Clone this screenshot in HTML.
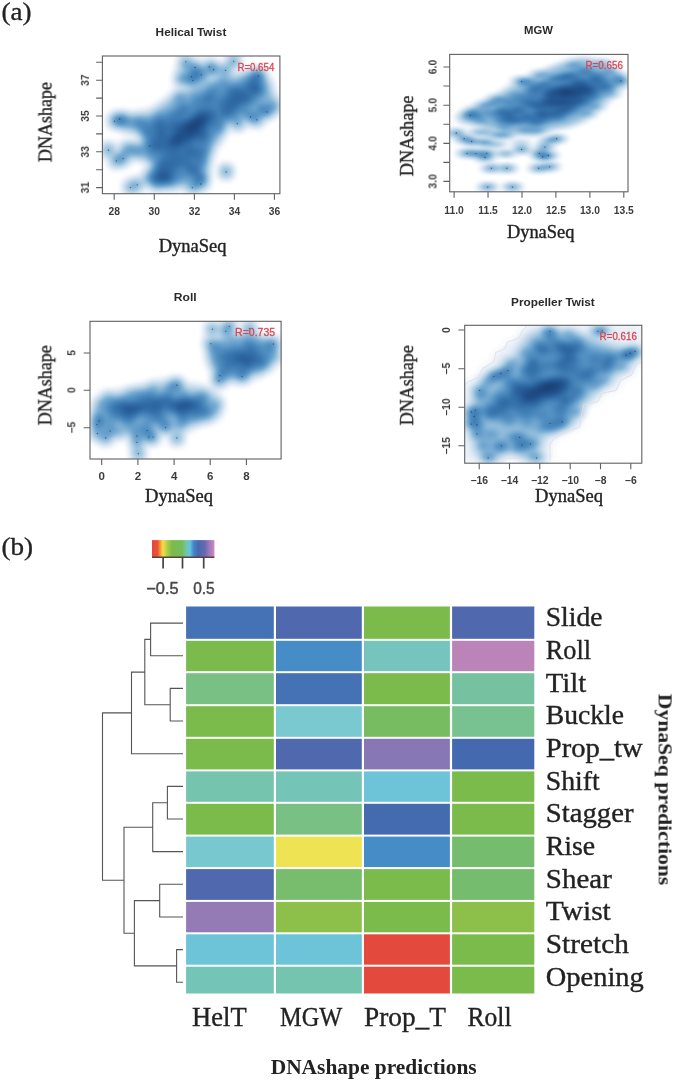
<!DOCTYPE html>
<html><head><meta charset="utf-8"><title>figure</title><style>html,body{margin:0;padding:0;background:#fff}svg{display:block}</style></head><body>
<svg width="675" height="1080" viewBox="0 0 675 1080">
<defs>
<filter id="soft" x="-5%" y="-20%" width="110%" height="140%"><feGaussianBlur stdDeviation="0.35"/></filter>
<filter id="soft2" x="-5%" y="-20%" width="110%" height="140%"><feGaussianBlur stdDeviation="0.5"/></filter>
<filter id="dens1" filterUnits="userSpaceOnUse" x="102.4" y="56.0" width="177.5" height="137.7" color-interpolation-filters="sRGB"><feGaussianBlur stdDeviation="4.5 4.5"/><feColorMatrix type="matrix" values="0 0 0 1 0  0 0 0 1 0  0 0 0 1 0  0 0 0 0 1"/><feComponentTransfer><feFuncR type="table" tableValues="1.000 0.920 0.869 0.825 0.788 0.748 0.708 0.671 0.635 0.594 0.555 0.518 0.482 0.451 0.422 0.394 0.367 0.341 0.317 0.299 0.282 0.264 0.247 0.231 0.215 0.203 0.192 0.181 0.170 0.160 0.149 0.139 0.131 0.126 0.122 0.117 0.112 0.108 0.103 0.099 0.094"/><feFuncG type="table" tableValues="1.000 0.949 0.917 0.888 0.865 0.842 0.821 0.801 0.782 0.755 0.729 0.705 0.682 0.660 0.639 0.618 0.599 0.579 0.560 0.542 0.523 0.505 0.488 0.471 0.454 0.437 0.420 0.403 0.387 0.370 0.354 0.339 0.323 0.308 0.293 0.279 0.264 0.250 0.236 0.222 0.208"/><feFuncB type="table" tableValues="1.000 0.977 0.960 0.944 0.931 0.918 0.905 0.892 0.881 0.868 0.855 0.843 0.831 0.819 0.806 0.793 0.781 0.770 0.758 0.744 0.731 0.718 0.705 0.693 0.681 0.665 0.648 0.632 0.616 0.600 0.585 0.570 0.553 0.533 0.513 0.493 0.474 0.455 0.437 0.418 0.400"/></feComponentTransfer><feGaussianBlur stdDeviation="0.6"/></filter>
<filter id="dens2" filterUnits="userSpaceOnUse" x="449.7" y="54.4" width="178.3" height="137.4" color-interpolation-filters="sRGB"><feGaussianBlur stdDeviation="5 2.8"/><feColorMatrix type="matrix" values="0 0 0 1 0  0 0 0 1 0  0 0 0 1 0  0 0 0 0 1"/><feComponentTransfer><feFuncR type="table" tableValues="1.000 0.920 0.869 0.825 0.788 0.748 0.708 0.671 0.635 0.594 0.555 0.518 0.482 0.451 0.422 0.394 0.367 0.341 0.317 0.299 0.282 0.264 0.247 0.231 0.215 0.203 0.192 0.181 0.170 0.160 0.149 0.139 0.131 0.126 0.122 0.117 0.112 0.108 0.103 0.099 0.094"/><feFuncG type="table" tableValues="1.000 0.949 0.917 0.888 0.865 0.842 0.821 0.801 0.782 0.755 0.729 0.705 0.682 0.660 0.639 0.618 0.599 0.579 0.560 0.542 0.523 0.505 0.488 0.471 0.454 0.437 0.420 0.403 0.387 0.370 0.354 0.339 0.323 0.308 0.293 0.279 0.264 0.250 0.236 0.222 0.208"/><feFuncB type="table" tableValues="1.000 0.977 0.960 0.944 0.931 0.918 0.905 0.892 0.881 0.868 0.855 0.843 0.831 0.819 0.806 0.793 0.781 0.770 0.758 0.744 0.731 0.718 0.705 0.693 0.681 0.665 0.648 0.632 0.616 0.600 0.585 0.570 0.553 0.533 0.513 0.493 0.474 0.455 0.437 0.418 0.400"/></feComponentTransfer><feGaussianBlur stdDeviation="0.6"/></filter>
<filter id="dens3" filterUnits="userSpaceOnUse" x="90.0" y="321.3" width="191.1" height="137.7" color-interpolation-filters="sRGB"><feGaussianBlur stdDeviation="4.5 4.5"/><feColorMatrix type="matrix" values="0 0 0 1 0  0 0 0 1 0  0 0 0 1 0  0 0 0 0 1"/><feComponentTransfer><feFuncR type="table" tableValues="1.000 0.920 0.869 0.825 0.788 0.748 0.708 0.671 0.635 0.594 0.555 0.518 0.482 0.451 0.422 0.394 0.367 0.341 0.317 0.299 0.282 0.264 0.247 0.231 0.215 0.203 0.192 0.181 0.170 0.160 0.149 0.139 0.131 0.126 0.122 0.117 0.112 0.108 0.103 0.099 0.094"/><feFuncG type="table" tableValues="1.000 0.949 0.917 0.888 0.865 0.842 0.821 0.801 0.782 0.755 0.729 0.705 0.682 0.660 0.639 0.618 0.599 0.579 0.560 0.542 0.523 0.505 0.488 0.471 0.454 0.437 0.420 0.403 0.387 0.370 0.354 0.339 0.323 0.308 0.293 0.279 0.264 0.250 0.236 0.222 0.208"/><feFuncB type="table" tableValues="1.000 0.977 0.960 0.944 0.931 0.918 0.905 0.892 0.881 0.868 0.855 0.843 0.831 0.819 0.806 0.793 0.781 0.770 0.758 0.744 0.731 0.718 0.705 0.693 0.681 0.665 0.648 0.632 0.616 0.600 0.585 0.570 0.553 0.533 0.513 0.493 0.474 0.455 0.437 0.418 0.400"/></feComponentTransfer><feGaussianBlur stdDeviation="0.6"/></filter>
<filter id="dens4" filterUnits="userSpaceOnUse" x="464.7" y="325.3" width="177.1" height="137.9" color-interpolation-filters="sRGB"><feGaussianBlur stdDeviation="5 3.6"/><feColorMatrix type="matrix" values="0 0 0 1 0  0 0 0 1 0  0 0 0 1 0  0 0 0 0 1"/><feComponentTransfer><feFuncR type="table" tableValues="1.000 0.920 0.869 0.825 0.788 0.748 0.708 0.671 0.635 0.594 0.555 0.518 0.482 0.451 0.422 0.394 0.367 0.341 0.317 0.299 0.282 0.264 0.247 0.231 0.215 0.203 0.192 0.181 0.170 0.160 0.149 0.139 0.131 0.126 0.122 0.117 0.112 0.108 0.103 0.099 0.094"/><feFuncG type="table" tableValues="1.000 0.949 0.917 0.888 0.865 0.842 0.821 0.801 0.782 0.755 0.729 0.705 0.682 0.660 0.639 0.618 0.599 0.579 0.560 0.542 0.523 0.505 0.488 0.471 0.454 0.437 0.420 0.403 0.387 0.370 0.354 0.339 0.323 0.308 0.293 0.279 0.264 0.250 0.236 0.222 0.208"/><feFuncB type="table" tableValues="1.000 0.977 0.960 0.944 0.931 0.918 0.905 0.892 0.881 0.868 0.855 0.843 0.831 0.819 0.806 0.793 0.781 0.770 0.758 0.744 0.731 0.718 0.705 0.693 0.681 0.665 0.648 0.632 0.616 0.600 0.585 0.570 0.553 0.533 0.513 0.493 0.474 0.455 0.437 0.418 0.400"/></feComponentTransfer><feGaussianBlur stdDeviation="0.6"/></filter>
<linearGradient id="lg" x1="0" x2="1" y1="0" y2="0"><stop offset="0%" stop-color="#E5453A"/><stop offset="9%" stop-color="#EA5238"/><stop offset="13%" stop-color="#F3953B"/><stop offset="17.5%" stop-color="#F2E046"/><stop offset="25%" stop-color="#A9CD48"/><stop offset="32%" stop-color="#7CBB4C"/><stop offset="48%" stop-color="#72BC5A"/><stop offset="55%" stop-color="#74C5A8"/><stop offset="61%" stop-color="#60C4E4"/><stop offset="66.5%" stop-color="#4A86C8"/><stop offset="74%" stop-color="#4668B0"/><stop offset="85%" stop-color="#6A69B2"/><stop offset="91%" stop-color="#9878B8"/><stop offset="100%" stop-color="#CB8AC2"/></linearGradient>
</defs>
<text x="1.5" y="20.2" font-family="Liberation Serif" font-size="25.8" font-weight="normal" fill="#222" text-anchor="start" textLength="30" lengthAdjust="spacingAndGlyphs"  stroke="#222" stroke-width="0.35" filter="url(#soft)">(a)</text>
<text x="1.5" y="554.6" font-family="Liberation Serif" font-size="25.8" font-weight="normal" fill="#222" text-anchor="start" textLength="31.6" lengthAdjust="spacingAndGlyphs"  stroke="#222" stroke-width="0.35" filter="url(#soft)">(b)</text>
<g filter="url(#dens1)">
<polygon points="195.7,100.7 218.2,92.2 240.7,86.6 257.6,83.8 263.2,92.2 257.6,100.7 240.7,106.3 226.7,114.7 218.2,128.8 209.8,145.7 204.1,162.6 195.7,173.8 178.8,182.3 156.3,182.3 150.7,176.7 159.1,165.4 164.7,154.1 156.3,145.7 147.8,137.3 142.2,126.0 156.3,120.4 173.2,114.7 184.4,106.3" fill="#000" fill-opacity="0.25"/>
<polygon points="257.6,72.5 268.9,81.0 271.7,92.2 277.3,103.5 275.9,110.5 266.1,116.1 252.0,113.3 240.7,117.5 232.3,120.4 226.7,126.0 221.0,137.3 212.6,148.5 208.4,162.6 207.0,173.8 204.1,182.3 195.7,187.9 184.4,185.1 170.4,187.9 150.7,185.1 142.2,180.9 147.8,171.0 153.5,162.6 145.0,158.4 128.1,155.5 119.7,152.7 121.1,145.7 136.6,144.3 147.8,140.1 142.2,133.0 128.1,130.2 116.9,126.0 112.7,120.4 116.9,114.7 131.0,116.1 150.7,113.3 164.7,103.5 176.0,95.0 190.1,89.4 201.3,83.8 218.2,78.1 232.3,76.7 246.4,75.3" fill="#000" fill-opacity="0.28"/>
<ellipse cx="195.7" cy="124.6" rx="12.7" ry="5.1" fill="#000" fill-opacity="0.8" transform="rotate(-40 195.7 124.6)"/>
<ellipse cx="192.9" cy="73.9" rx="15.5" ry="8.4" fill="#000" fill-opacity="0.18" transform="rotate(10 192.9 73.9)"/>
<ellipse cx="131.0" cy="121.8" rx="19.7" ry="3.9" fill="#000" fill-opacity="0.2" transform="rotate(3 131.0 121.8)"/>
<ellipse cx="252.0" cy="81.0" rx="12.7" ry="9.9" fill="#000" fill-opacity="0.15" transform="rotate(-20 252.0 81.0)"/>
<ellipse cx="192.9" cy="128.8" rx="22.5" ry="9.9" fill="#000" fill-opacity="0.4" transform="rotate(-38 192.9 128.8)"/>
<ellipse cx="174.6" cy="140.6" rx="9.0" ry="4.5" fill="#000" fill-opacity="0.6" transform="rotate(-10 174.6 140.6)"/>
<ellipse cx="160.5" cy="178.1" rx="14.1" ry="5.6" fill="#000" fill-opacity="0.4"/>
<ellipse cx="170.4" cy="161.2" rx="9.9" ry="8.4" fill="#000" fill-opacity="0.3"/>
<ellipse cx="185.8" cy="62.7" rx="4.5" ry="4.5" fill="#000" fill-opacity="0.55"/>
<ellipse cx="195.7" cy="67.5" rx="4.5" ry="4.5" fill="#000" fill-opacity="0.55"/>
<ellipse cx="209.8" cy="66.9" rx="4.5" ry="4.5" fill="#000" fill-opacity="0.55"/>
<ellipse cx="214.0" cy="69.7" rx="4.5" ry="4.5" fill="#000" fill-opacity="0.55"/>
<ellipse cx="192.9" cy="76.7" rx="4.5" ry="4.5" fill="#000" fill-opacity="0.55"/>
<ellipse cx="191.5" cy="80.4" rx="4.5" ry="4.5" fill="#000" fill-opacity="0.55"/>
<ellipse cx="201.3" cy="74.8" rx="4.5" ry="4.5" fill="#000" fill-opacity="0.55"/>
<ellipse cx="181.6" cy="79.6" rx="4.5" ry="4.5" fill="#000" fill-opacity="0.55"/>
<ellipse cx="233.7" cy="61.3" rx="4.5" ry="4.5" fill="#000" fill-opacity="0.55"/>
<ellipse cx="225.2" cy="70.3" rx="4.5" ry="4.5" fill="#000" fill-opacity="0.55"/>
<ellipse cx="114.6" cy="120.9" rx="4.5" ry="4.5" fill="#000" fill-opacity="0.4"/>
<ellipse cx="119.7" cy="119.0" rx="4.5" ry="4.5" fill="#000" fill-opacity="0.4"/>
<ellipse cx="108.4" cy="149.9" rx="4.5" ry="4.5" fill="#000" fill-opacity="0.55"/>
<ellipse cx="116.3" cy="160.6" rx="4.5" ry="4.5" fill="#000" fill-opacity="0.55"/>
<ellipse cx="123.1" cy="158.4" rx="4.5" ry="4.5" fill="#000" fill-opacity="0.55"/>
<ellipse cx="130.4" cy="187.3" rx="4.5" ry="4.5" fill="#000" fill-opacity="0.45"/>
<ellipse cx="137.2" cy="184.5" rx="4.5" ry="4.5" fill="#000" fill-opacity="0.45"/>
<ellipse cx="226.1" cy="171.6" rx="4.5" ry="4.5" fill="#000" fill-opacity="0.55"/>
<ellipse cx="199.9" cy="176.7" rx="4.5" ry="4.5" fill="#000" fill-opacity="0.4"/>
<ellipse cx="202.7" cy="179.5" rx="4.5" ry="4.5" fill="#000" fill-opacity="0.4"/>
<ellipse cx="192.9" cy="187.3" rx="4.5" ry="4.5" fill="#000" fill-opacity="0.4"/>
<ellipse cx="200.8" cy="183.7" rx="4.5" ry="4.5" fill="#000" fill-opacity="0.4"/>
<ellipse cx="237.9" cy="123.2" rx="4.5" ry="4.5" fill="#000" fill-opacity="0.55"/>
<ellipse cx="250.6" cy="117.0" rx="4.5" ry="4.5" fill="#000" fill-opacity="0.55"/>
<ellipse cx="256.8" cy="119.5" rx="4.5" ry="4.5" fill="#000" fill-opacity="0.55"/>
<ellipse cx="266.9" cy="111.9" rx="4.5" ry="4.5" fill="#000" fill-opacity="0.55"/>
<ellipse cx="149.8" cy="145.7" rx="4.5" ry="4.5" fill="#000" fill-opacity="0.55"/>
<ellipse cx="258.2" cy="75.9" rx="4.5" ry="4.5" fill="#000" fill-opacity="0.55"/>
<ellipse cx="208.4" cy="95.0" rx="4.0" ry="4.0" fill="#000" fill-opacity="0.4"/>
<ellipse cx="189.6" cy="149.1" rx="4.0" ry="4.0" fill="#000" fill-opacity="0.4"/>
<ellipse cx="160.2" cy="152.4" rx="4.0" ry="4.0" fill="#000" fill-opacity="0.4"/>
<ellipse cx="173.0" cy="126.9" rx="4.0" ry="4.0" fill="#000" fill-opacity="0.4"/>
<ellipse cx="166.3" cy="146.1" rx="4.0" ry="4.0" fill="#000" fill-opacity="0.4"/>
<ellipse cx="179.2" cy="96.5" rx="4.0" ry="4.0" fill="#000" fill-opacity="0.4"/>
<ellipse cx="183.5" cy="107.6" rx="4.0" ry="4.0" fill="#000" fill-opacity="0.4"/>
<ellipse cx="179.3" cy="149.7" rx="4.0" ry="4.0" fill="#000" fill-opacity="0.4"/>
<ellipse cx="200.8" cy="112.4" rx="4.0" ry="4.0" fill="#000" fill-opacity="0.4"/>
<ellipse cx="137.5" cy="151.5" rx="4.0" ry="4.0" fill="#000" fill-opacity="0.4"/>
<ellipse cx="232.6" cy="114.4" rx="4.0" ry="4.0" fill="#000" fill-opacity="0.4"/>
<ellipse cx="220.1" cy="127.3" rx="4.0" ry="4.0" fill="#000" fill-opacity="0.4"/>
<ellipse cx="194.7" cy="173.6" rx="4.0" ry="4.0" fill="#000" fill-opacity="0.4"/>
<ellipse cx="163.9" cy="172.9" rx="4.0" ry="4.0" fill="#000" fill-opacity="0.4"/>
<ellipse cx="250.7" cy="86.2" rx="4.0" ry="4.0" fill="#000" fill-opacity="0.4"/>
<ellipse cx="259.1" cy="88.6" rx="4.0" ry="4.0" fill="#000" fill-opacity="0.4"/>
<ellipse cx="203.0" cy="152.0" rx="4.0" ry="4.0" fill="#000" fill-opacity="0.4"/>
<ellipse cx="158.5" cy="167.7" rx="4.0" ry="4.0" fill="#000" fill-opacity="0.4"/>
<ellipse cx="261.0" cy="109.3" rx="4.0" ry="4.0" fill="#000" fill-opacity="0.4"/>
<ellipse cx="128.4" cy="147.9" rx="4.0" ry="4.0" fill="#000" fill-opacity="0.4"/>
<ellipse cx="258.8" cy="73.9" rx="4.0" ry="4.0" fill="#000" fill-opacity="0.4"/>
<ellipse cx="188.2" cy="138.2" rx="4.0" ry="4.0" fill="#000" fill-opacity="0.4"/>
<ellipse cx="245.1" cy="100.0" rx="4.0" ry="4.0" fill="#000" fill-opacity="0.4"/>
<ellipse cx="203.6" cy="134.3" rx="4.0" ry="4.0" fill="#000" fill-opacity="0.4"/>
<ellipse cx="167.7" cy="180.6" rx="4.0" ry="4.0" fill="#000" fill-opacity="0.4"/>
<ellipse cx="233.6" cy="100.3" rx="4.0" ry="4.0" fill="#000" fill-opacity="0.4"/>
<ellipse cx="184.3" cy="125.0" rx="4.0" ry="4.0" fill="#000" fill-opacity="0.4"/>
<ellipse cx="222.4" cy="103.6" rx="4.0" ry="4.0" fill="#000" fill-opacity="0.4"/>
<ellipse cx="122.3" cy="120.0" rx="4.0" ry="4.0" fill="#000" fill-opacity="0.4"/>
<ellipse cx="214.2" cy="89.1" rx="4.0" ry="4.0" fill="#000" fill-opacity="0.4"/>
<ellipse cx="156.5" cy="146.2" rx="4.0" ry="4.0" fill="#000" fill-opacity="0.4"/>
<ellipse cx="244.1" cy="111.6" rx="4.0" ry="4.0" fill="#000" fill-opacity="0.4"/>
<ellipse cx="232.9" cy="89.5" rx="4.0" ry="4.0" fill="#000" fill-opacity="0.4"/>
<ellipse cx="143.8" cy="132.1" rx="4.0" ry="4.0" fill="#000" fill-opacity="0.4"/>
<ellipse cx="196.8" cy="98.7" rx="4.0" ry="4.0" fill="#000" fill-opacity="0.4"/>
<ellipse cx="160.1" cy="133.8" rx="4.0" ry="4.0" fill="#000" fill-opacity="0.4"/>
<ellipse cx="275.0" cy="106.8" rx="4.0" ry="4.0" fill="#000" fill-opacity="0.4"/>
<ellipse cx="151.4" cy="156.0" rx="4.0" ry="4.0" fill="#000" fill-opacity="0.4"/>
<ellipse cx="176.6" cy="137.0" rx="4.0" ry="4.0" fill="#000" fill-opacity="0.4"/>
<ellipse cx="139.7" cy="123.2" rx="4.0" ry="4.0" fill="#000" fill-opacity="0.4"/>
<ellipse cx="225.0" cy="115.1" rx="4.0" ry="4.0" fill="#000" fill-opacity="0.4"/>
<ellipse cx="252.6" cy="78.9" rx="4.0" ry="4.0" fill="#000" fill-opacity="0.4"/>
<ellipse cx="223.3" cy="83.1" rx="4.0" ry="4.0" fill="#000" fill-opacity="0.4"/>
<ellipse cx="157.1" cy="184.5" rx="4.0" ry="4.0" fill="#000" fill-opacity="0.4"/>
<ellipse cx="159.5" cy="118.4" rx="4.0" ry="4.0" fill="#000" fill-opacity="0.4"/>
<ellipse cx="193.1" cy="168.4" rx="4.0" ry="4.0" fill="#000" fill-opacity="0.4"/>
<ellipse cx="147.9" cy="136.0" rx="4.0" ry="4.0" fill="#000" fill-opacity="0.4"/>
<ellipse cx="226.5" cy="112.0" rx="4.0" ry="4.0" fill="#000" fill-opacity="0.4"/>
<ellipse cx="158.7" cy="176.7" rx="4.0" ry="4.0" fill="#000" fill-opacity="0.4"/>
<ellipse cx="252.5" cy="89.1" rx="4.0" ry="4.0" fill="#000" fill-opacity="0.4"/>
<ellipse cx="210.3" cy="112.1" rx="4.0" ry="4.0" fill="#000" fill-opacity="0.4"/>
<ellipse cx="230.7" cy="92.4" rx="4.0" ry="4.0" fill="#000" fill-opacity="0.4"/>
<ellipse cx="159.2" cy="138.9" rx="4.0" ry="4.0" fill="#000" fill-opacity="0.4"/>
<ellipse cx="242.2" cy="95.5" rx="4.0" ry="4.0" fill="#000" fill-opacity="0.4"/>
<ellipse cx="161.4" cy="125.6" rx="4.0" ry="4.0" fill="#000" fill-opacity="0.4"/>
<ellipse cx="238.2" cy="100.7" rx="4.0" ry="4.0" fill="#000" fill-opacity="0.4"/>
<ellipse cx="172.6" cy="149.6" rx="4.0" ry="4.0" fill="#000" fill-opacity="0.4"/>
<ellipse cx="249.5" cy="99.5" rx="4.0" ry="4.0" fill="#000" fill-opacity="0.4"/>
<ellipse cx="172.0" cy="168.7" rx="4.0" ry="4.0" fill="#000" fill-opacity="0.4"/>
<ellipse cx="181.0" cy="159.9" rx="4.0" ry="4.0" fill="#000" fill-opacity="0.4"/>
<ellipse cx="212.5" cy="118.3" rx="4.0" ry="4.0" fill="#000" fill-opacity="0.4"/>
<ellipse cx="180.8" cy="140.3" rx="4.0" ry="4.0" fill="#000" fill-opacity="0.4"/>
<ellipse cx="177.9" cy="111.9" rx="4.0" ry="4.0" fill="#000" fill-opacity="0.4"/>
<ellipse cx="172.6" cy="127.7" rx="4.0" ry="4.0" fill="#000" fill-opacity="0.4"/>
<ellipse cx="154.9" cy="124.6" rx="4.0" ry="4.0" fill="#000" fill-opacity="0.4"/>
<ellipse cx="229.0" cy="103.5" rx="4.0" ry="4.0" fill="#000" fill-opacity="0.4"/>
<ellipse cx="160.4" cy="163.5" rx="4.0" ry="4.0" fill="#000" fill-opacity="0.4"/>
<ellipse cx="163.1" cy="132.6" rx="4.0" ry="4.0" fill="#000" fill-opacity="0.4"/>
<ellipse cx="181.0" cy="125.2" rx="4.0" ry="4.0" fill="#000" fill-opacity="0.4"/>
<ellipse cx="195.3" cy="152.9" rx="4.0" ry="4.0" fill="#000" fill-opacity="0.4"/>
<ellipse cx="201.2" cy="162.7" rx="4.0" ry="4.0" fill="#000" fill-opacity="0.4"/>
<ellipse cx="259.3" cy="89.5" rx="4.0" ry="4.0" fill="#000" fill-opacity="0.4"/>
<ellipse cx="166.7" cy="178.6" rx="4.0" ry="4.0" fill="#000" fill-opacity="0.4"/>
<ellipse cx="192.6" cy="133.9" rx="4.0" ry="4.0" fill="#000" fill-opacity="0.4"/>
<ellipse cx="187.1" cy="165.1" rx="4.0" ry="4.0" fill="#000" fill-opacity="0.4"/>
<ellipse cx="170.7" cy="116.4" rx="4.0" ry="4.0" fill="#000" fill-opacity="0.4"/>
<ellipse cx="207.4" cy="98.8" rx="4.0" ry="4.0" fill="#000" fill-opacity="0.4"/>
<ellipse cx="188.5" cy="154.3" rx="4.0" ry="4.0" fill="#000" fill-opacity="0.4"/>
<ellipse cx="193.5" cy="121.2" rx="4.0" ry="4.0" fill="#000" fill-opacity="0.4"/>
<ellipse cx="173.0" cy="139.4" rx="4.0" ry="4.0" fill="#000" fill-opacity="0.4"/>
<ellipse cx="182.6" cy="131.3" rx="4.0" ry="4.0" fill="#000" fill-opacity="0.4"/>
<ellipse cx="157.1" cy="145.8" rx="4.0" ry="4.0" fill="#000" fill-opacity="0.4"/>
<ellipse cx="202.0" cy="138.7" rx="4.0" ry="4.0" fill="#000" fill-opacity="0.4"/>
<ellipse cx="235.1" cy="107.6" rx="4.0" ry="4.0" fill="#000" fill-opacity="0.4"/>
<ellipse cx="239.5" cy="89.8" rx="4.0" ry="4.0" fill="#000" fill-opacity="0.4"/>
</g>
<g fill="#1c2c3c" fill-opacity="0.7"><circle cx="185.8" cy="61.8" r="0.65"/><circle cx="195.1" cy="67.5" r="0.65"/><circle cx="209.2" cy="66.9" r="0.65"/><circle cx="213.7" cy="69.7" r="0.65"/><circle cx="225.5" cy="70.3" r="0.65"/><circle cx="233.7" cy="61.3" r="0.65"/><circle cx="191.5" cy="76.7" r="0.65"/><circle cx="192.9" cy="80.4" r="0.65"/><circle cx="201.3" cy="74.8" r="0.65"/><circle cx="258.2" cy="75.9" r="0.65"/><circle cx="114.6" cy="121.2" r="0.65"/><circle cx="119.7" cy="119.0" r="0.65"/><circle cx="108.4" cy="150.2" r="0.65"/><circle cx="116.3" cy="160.9" r="0.65"/><circle cx="123.1" cy="158.6" r="0.65"/><circle cx="149.8" cy="146.0" r="0.65"/><circle cx="130.4" cy="187.6" r="0.65"/><circle cx="137.2" cy="184.8" r="0.65"/><circle cx="226.1" cy="171.9" r="0.65"/><circle cx="192.3" cy="187.6" r="0.65"/><circle cx="200.8" cy="184.0" r="0.65"/><circle cx="237.3" cy="123.7" r="0.65"/><circle cx="250.6" cy="117.0" r="0.65"/><circle cx="256.8" cy="119.8" r="0.65"/><circle cx="266.9" cy="111.9" r="0.65"/></g>
<rect x="102.4" y="56.0" width="177.5" height="137.7" fill="none" stroke="#606060" stroke-width="1.1"/>
<path d="M114.2 193.7v6 M154.3 193.7v6 M194.4 193.7v6 M234.4 193.7v6 M274.4 193.7v6 M102.4 80.2h-6.3 M102.4 116h-6.3 M102.4 151.8h-6.3 M102.4 187.6h-6.3 M102.4 62.3h-6.3 M102.4 98.1h-6.3 M102.4 133.9h-6.3 M102.4 169.7h-6.3" stroke="#606060" stroke-width="1.1" fill="none"/>
<text x="114.2" y="215.3" font-family="Liberation Sans" font-size="10.3" font-weight="bold" fill="#3c3c3c" text-anchor="middle"  filter="url(#soft)">28</text>
<text x="154.3" y="215.3" font-family="Liberation Sans" font-size="10.3" font-weight="bold" fill="#3c3c3c" text-anchor="middle"  filter="url(#soft)">30</text>
<text x="194.4" y="215.3" font-family="Liberation Sans" font-size="10.3" font-weight="bold" fill="#3c3c3c" text-anchor="middle"  filter="url(#soft)">32</text>
<text x="234.4" y="215.3" font-family="Liberation Sans" font-size="10.3" font-weight="bold" fill="#3c3c3c" text-anchor="middle"  filter="url(#soft)">34</text>
<text x="274.4" y="215.3" font-family="Liberation Sans" font-size="10.3" font-weight="bold" fill="#3c3c3c" text-anchor="middle"  filter="url(#soft)">36</text>
<text transform="translate(88.9,80.2) rotate(-90)" font-family="Liberation Sans" font-size="10.3" font-weight="bold" fill="#3c3c3c" text-anchor="middle"  filter="url(#soft)">37</text>
<text transform="translate(88.9,116) rotate(-90)" font-family="Liberation Sans" font-size="10.3" font-weight="bold" fill="#3c3c3c" text-anchor="middle"  filter="url(#soft)">35</text>
<text transform="translate(88.9,151.8) rotate(-90)" font-family="Liberation Sans" font-size="10.3" font-weight="bold" fill="#3c3c3c" text-anchor="middle"  filter="url(#soft)">33</text>
<text transform="translate(88.9,187.6) rotate(-90)" font-family="Liberation Sans" font-size="10.3" font-weight="bold" fill="#3c3c3c" text-anchor="middle"  filter="url(#soft)">31</text>
<text x="155.6" y="35.6" font-family="Liberation Sans" font-size="11.1" font-weight="bold" fill="#2a2a2a" text-anchor="start" textLength="70.8" lengthAdjust="spacingAndGlyphs"  filter="url(#soft)">Helical Twist</text>
<text x="237.4" y="71.4" font-family="Liberation Sans" font-size="10.5" font-weight="normal" fill="#dc4650" text-anchor="start" textLength="36.9" lengthAdjust="spacingAndGlyphs"  stroke="#dc4650" stroke-width="0.3" filter="url(#soft)">R=0.654</text>
<text transform="translate(51.5,162.1) rotate(-90)" font-family="Liberation Serif" font-size="18.3" font-weight="normal" fill="#222" text-anchor="start" textLength="80.1" lengthAdjust="spacingAndGlyphs"  stroke="#222" stroke-width="0.35" filter="url(#soft)">DNAshape</text>
<text x="158.7" y="252" font-family="Liberation Serif" font-size="18" font-weight="normal" fill="#222" text-anchor="start" textLength="67.9" lengthAdjust="spacingAndGlyphs"  stroke="#222" stroke-width="0.35" filter="url(#soft)">DynaSeq</text>
<g filter="url(#dens2)">
<polygon points="537.9,103.5 557.6,86.6 577.3,78.1 597.0,81.0 591.4,95.0 571.7,109.1 552.0,116.1 535.1,114.7" fill="#000" fill-opacity="0.25"/>
<polygon points="490.0,116.1 508.3,100.7 529.4,89.4 546.3,81.0 566.0,72.5 585.7,68.3 605.4,73.9 613.9,82.4 605.4,92.2 591.4,103.5 577.3,113.3 557.6,120.4 535.1,123.2 515.4,124.6 495.7,121.8" fill="#000" fill-opacity="0.25"/>
<polygon points="459.1,116.1 467.5,110.5 481.6,103.5 498.5,95.0 512.5,86.6 526.6,78.1 540.7,72.5 557.6,65.5 571.7,59.9 585.7,58.4 602.6,62.7 616.7,71.1 625.1,79.6 623.7,86.6 613.9,92.2 605.4,102.1 594.2,110.5 582.9,120.4 568.8,126.0 552.0,128.8 537.9,134.4 521.0,134.4 506.9,131.6 490.0,128.8 476.0,124.6 461.9,121.8" fill="#000" fill-opacity="0.24"/>
<ellipse cx="566.0" cy="92.2" rx="7.9" ry="3.1" fill="#000" fill-opacity="0.85" transform="rotate(-15 566.0 92.2)"/>
<ellipse cx="563.2" cy="95.0" rx="19.7" ry="7.9" fill="#000" fill-opacity="0.35" transform="rotate(-25 563.2 95.0)"/>
<ellipse cx="501.3" cy="135.0" rx="11.3" ry="2.3" fill="#000" fill-opacity="0.5"/>
<ellipse cx="481.6" cy="132.2" rx="9.9" ry="2.3" fill="#000" fill-opacity="0.4"/>
<ellipse cx="495.7" cy="144.3" rx="8.4" ry="1.7" fill="#000" fill-opacity="0.4"/>
<ellipse cx="505.5" cy="153.6" rx="7.0" ry="1.7" fill="#000" fill-opacity="0.6"/>
<ellipse cx="549.1" cy="140.6" rx="7.0" ry="1.7" fill="#000" fill-opacity="0.6"/>
<ellipse cx="521.0" cy="142.9" rx="7.0" ry="1.7" fill="#000" fill-opacity="0.3"/>
<ellipse cx="456.3" cy="133.0" rx="5.5" ry="2.8" fill="#000" fill-opacity="0.55"/>
<ellipse cx="464.1" cy="138.7" rx="5.5" ry="2.8" fill="#000" fill-opacity="0.55"/>
<ellipse cx="471.7" cy="141.5" rx="5.5" ry="2.8" fill="#000" fill-opacity="0.55"/>
<ellipse cx="484.4" cy="142.3" rx="5.5" ry="2.8" fill="#000" fill-opacity="0.55"/>
<ellipse cx="470.3" cy="115.3" rx="5.5" ry="2.8" fill="#000" fill-opacity="0.55"/>
<ellipse cx="467.0" cy="153.3" rx="5.5" ry="2.8" fill="#000" fill-opacity="0.55"/>
<ellipse cx="476.0" cy="153.6" rx="5.5" ry="2.8" fill="#000" fill-opacity="0.55"/>
<ellipse cx="486.7" cy="153.3" rx="5.5" ry="2.8" fill="#000" fill-opacity="0.55"/>
<ellipse cx="485.0" cy="157.5" rx="5.5" ry="2.8" fill="#000" fill-opacity="0.55"/>
<ellipse cx="521.6" cy="149.4" rx="5.5" ry="2.8" fill="#000" fill-opacity="0.55"/>
<ellipse cx="539.3" cy="153.3" rx="5.5" ry="2.8" fill="#000" fill-opacity="0.55"/>
<ellipse cx="542.7" cy="157.0" rx="5.5" ry="2.8" fill="#000" fill-opacity="0.55"/>
<ellipse cx="548.3" cy="155.5" rx="5.5" ry="2.8" fill="#000" fill-opacity="0.55"/>
<ellipse cx="544.9" cy="147.1" rx="5.5" ry="2.8" fill="#000" fill-opacity="0.55"/>
<ellipse cx="556.7" cy="138.7" rx="5.5" ry="2.8" fill="#000" fill-opacity="0.55"/>
<ellipse cx="491.4" cy="168.2" rx="5.5" ry="2.8" fill="#000" fill-opacity="0.55"/>
<ellipse cx="506.9" cy="168.2" rx="5.5" ry="2.8" fill="#000" fill-opacity="0.55"/>
<ellipse cx="538.7" cy="168.2" rx="5.5" ry="2.8" fill="#000" fill-opacity="0.55"/>
<ellipse cx="549.7" cy="166.8" rx="5.5" ry="2.8" fill="#000" fill-opacity="0.55"/>
<ellipse cx="487.8" cy="187.1" rx="5.5" ry="2.8" fill="#000" fill-opacity="0.55"/>
<ellipse cx="512.5" cy="187.1" rx="5.5" ry="2.8" fill="#000" fill-opacity="0.55"/>
<ellipse cx="620.9" cy="81.0" rx="5.5" ry="2.8" fill="#000" fill-opacity="0.55"/>
<ellipse cx="521.6" cy="81.0" rx="5.5" ry="2.8" fill="#000" fill-opacity="0.55"/>
<ellipse cx="483.7" cy="105.3" rx="5.0" ry="2.5" fill="#000" fill-opacity="0.33"/>
<ellipse cx="487.3" cy="112.6" rx="5.0" ry="2.5" fill="#000" fill-opacity="0.33"/>
<ellipse cx="560.0" cy="87.7" rx="5.0" ry="2.5" fill="#000" fill-opacity="0.33"/>
<ellipse cx="561.6" cy="101.5" rx="5.0" ry="2.5" fill="#000" fill-opacity="0.33"/>
<ellipse cx="480.3" cy="120.0" rx="5.0" ry="2.5" fill="#000" fill-opacity="0.33"/>
<ellipse cx="573.6" cy="104.7" rx="5.0" ry="2.5" fill="#000" fill-opacity="0.33"/>
<ellipse cx="532.4" cy="96.5" rx="5.0" ry="2.5" fill="#000" fill-opacity="0.33"/>
<ellipse cx="495.9" cy="98.8" rx="5.0" ry="2.5" fill="#000" fill-opacity="0.33"/>
<ellipse cx="563.7" cy="109.4" rx="5.0" ry="2.5" fill="#000" fill-opacity="0.33"/>
<ellipse cx="514.4" cy="110.7" rx="5.0" ry="2.5" fill="#000" fill-opacity="0.33"/>
<ellipse cx="543.7" cy="115.3" rx="5.0" ry="2.5" fill="#000" fill-opacity="0.33"/>
<ellipse cx="530.7" cy="88.7" rx="5.0" ry="2.5" fill="#000" fill-opacity="0.33"/>
<ellipse cx="609.8" cy="71.1" rx="5.0" ry="2.5" fill="#000" fill-opacity="0.33"/>
<ellipse cx="493.5" cy="103.2" rx="5.0" ry="2.5" fill="#000" fill-opacity="0.33"/>
<ellipse cx="551.7" cy="91.9" rx="5.0" ry="2.5" fill="#000" fill-opacity="0.33"/>
<ellipse cx="596.1" cy="107.0" rx="5.0" ry="2.5" fill="#000" fill-opacity="0.33"/>
<ellipse cx="537.1" cy="130.4" rx="5.0" ry="2.5" fill="#000" fill-opacity="0.33"/>
<ellipse cx="533.3" cy="106.0" rx="5.0" ry="2.5" fill="#000" fill-opacity="0.33"/>
<ellipse cx="524.0" cy="114.9" rx="5.0" ry="2.5" fill="#000" fill-opacity="0.33"/>
<ellipse cx="525.2" cy="129.7" rx="5.0" ry="2.5" fill="#000" fill-opacity="0.33"/>
<ellipse cx="605.7" cy="87.7" rx="5.0" ry="2.5" fill="#000" fill-opacity="0.33"/>
<ellipse cx="501.4" cy="110.5" rx="5.0" ry="2.5" fill="#000" fill-opacity="0.33"/>
<ellipse cx="528.4" cy="82.6" rx="5.0" ry="2.5" fill="#000" fill-opacity="0.33"/>
<ellipse cx="580.0" cy="89.9" rx="5.0" ry="2.5" fill="#000" fill-opacity="0.33"/>
<ellipse cx="508.4" cy="114.9" rx="5.0" ry="2.5" fill="#000" fill-opacity="0.33"/>
<ellipse cx="535.8" cy="122.5" rx="5.0" ry="2.5" fill="#000" fill-opacity="0.33"/>
<ellipse cx="565.7" cy="75.7" rx="5.0" ry="2.5" fill="#000" fill-opacity="0.33"/>
<ellipse cx="590.3" cy="88.1" rx="5.0" ry="2.5" fill="#000" fill-opacity="0.33"/>
<ellipse cx="611.7" cy="94.1" rx="5.0" ry="2.5" fill="#000" fill-opacity="0.33"/>
<ellipse cx="565.0" cy="94.5" rx="5.0" ry="2.5" fill="#000" fill-opacity="0.33"/>
<ellipse cx="598.0" cy="79.3" rx="5.0" ry="2.5" fill="#000" fill-opacity="0.33"/>
<ellipse cx="588.3" cy="113.7" rx="5.0" ry="2.5" fill="#000" fill-opacity="0.33"/>
<ellipse cx="603.0" cy="63.0" rx="5.0" ry="2.5" fill="#000" fill-opacity="0.33"/>
<ellipse cx="505.7" cy="100.7" rx="5.0" ry="2.5" fill="#000" fill-opacity="0.33"/>
<ellipse cx="543.2" cy="100.7" rx="5.0" ry="2.5" fill="#000" fill-opacity="0.33"/>
<ellipse cx="504.4" cy="127.1" rx="5.0" ry="2.5" fill="#000" fill-opacity="0.33"/>
<ellipse cx="472.3" cy="111.2" rx="5.0" ry="2.5" fill="#000" fill-opacity="0.33"/>
<ellipse cx="476.5" cy="115.5" rx="5.0" ry="2.5" fill="#000" fill-opacity="0.33"/>
<ellipse cx="537.5" cy="85.7" rx="5.0" ry="2.5" fill="#000" fill-opacity="0.33"/>
<ellipse cx="619.2" cy="76.7" rx="5.0" ry="2.5" fill="#000" fill-opacity="0.33"/>
<ellipse cx="539.4" cy="74.0" rx="5.0" ry="2.5" fill="#000" fill-opacity="0.33"/>
<ellipse cx="515.4" cy="95.5" rx="5.0" ry="2.5" fill="#000" fill-opacity="0.33"/>
<ellipse cx="574.1" cy="65.2" rx="5.0" ry="2.5" fill="#000" fill-opacity="0.33"/>
<ellipse cx="522.1" cy="120.2" rx="5.0" ry="2.5" fill="#000" fill-opacity="0.33"/>
<ellipse cx="512.6" cy="119.5" rx="5.0" ry="2.5" fill="#000" fill-opacity="0.33"/>
<ellipse cx="600.4" cy="83.2" rx="5.0" ry="2.5" fill="#000" fill-opacity="0.4"/>
<ellipse cx="544.4" cy="120.2" rx="5.0" ry="2.5" fill="#000" fill-opacity="0.4"/>
<ellipse cx="579.1" cy="82.1" rx="5.0" ry="2.5" fill="#000" fill-opacity="0.4"/>
<ellipse cx="562.5" cy="77.9" rx="5.0" ry="2.5" fill="#000" fill-opacity="0.4"/>
<ellipse cx="539.5" cy="114.1" rx="5.0" ry="2.5" fill="#000" fill-opacity="0.4"/>
<ellipse cx="544.0" cy="84.2" rx="5.0" ry="2.5" fill="#000" fill-opacity="0.4"/>
<ellipse cx="539.7" cy="106.5" rx="5.0" ry="2.5" fill="#000" fill-opacity="0.4"/>
<ellipse cx="499.9" cy="112.5" rx="5.0" ry="2.5" fill="#000" fill-opacity="0.4"/>
<ellipse cx="592.2" cy="97.0" rx="5.0" ry="2.5" fill="#000" fill-opacity="0.4"/>
<ellipse cx="568.7" cy="109.0" rx="5.0" ry="2.5" fill="#000" fill-opacity="0.4"/>
<ellipse cx="608.2" cy="87.0" rx="5.0" ry="2.5" fill="#000" fill-opacity="0.4"/>
<ellipse cx="595.1" cy="77.0" rx="5.0" ry="2.5" fill="#000" fill-opacity="0.4"/>
<ellipse cx="525.1" cy="101.8" rx="5.0" ry="2.5" fill="#000" fill-opacity="0.4"/>
<ellipse cx="585.4" cy="70.5" rx="5.0" ry="2.5" fill="#000" fill-opacity="0.4"/>
<ellipse cx="551.9" cy="89.3" rx="5.0" ry="2.5" fill="#000" fill-opacity="0.4"/>
<ellipse cx="533.0" cy="103.2" rx="5.0" ry="2.5" fill="#000" fill-opacity="0.4"/>
<ellipse cx="535.3" cy="90.2" rx="5.0" ry="2.5" fill="#000" fill-opacity="0.4"/>
<ellipse cx="520.1" cy="109.6" rx="5.0" ry="2.5" fill="#000" fill-opacity="0.4"/>
<ellipse cx="535.9" cy="123.0" rx="5.0" ry="2.5" fill="#000" fill-opacity="0.4"/>
<ellipse cx="509.0" cy="115.0" rx="5.0" ry="2.5" fill="#000" fill-opacity="0.4"/>
<ellipse cx="530.4" cy="117.8" rx="5.0" ry="2.5" fill="#000" fill-opacity="0.4"/>
<ellipse cx="582.8" cy="102.1" rx="5.0" ry="2.5" fill="#000" fill-opacity="0.4"/>
<ellipse cx="584.4" cy="91.8" rx="5.0" ry="2.5" fill="#000" fill-opacity="0.4"/>
<ellipse cx="565.8" cy="102.2" rx="5.0" ry="2.5" fill="#000" fill-opacity="0.4"/>
<ellipse cx="561.9" cy="112.1" rx="5.0" ry="2.5" fill="#000" fill-opacity="0.4"/>
<ellipse cx="577.0" cy="94.0" rx="5.0" ry="2.5" fill="#000" fill-opacity="0.4"/>
<ellipse cx="558.3" cy="117.7" rx="5.0" ry="2.5" fill="#000" fill-opacity="0.4"/>
<ellipse cx="582.4" cy="86.5" rx="5.0" ry="2.5" fill="#000" fill-opacity="0.4"/>
<ellipse cx="553.9" cy="78.2" rx="5.0" ry="2.5" fill="#000" fill-opacity="0.4"/>
<ellipse cx="550.9" cy="105.4" rx="5.0" ry="2.5" fill="#000" fill-opacity="0.4"/>
<ellipse cx="594.0" cy="90.5" rx="5.0" ry="2.5" fill="#000" fill-opacity="0.4"/>
<ellipse cx="503.2" cy="120.2" rx="5.0" ry="2.5" fill="#000" fill-opacity="0.4"/>
<ellipse cx="547.3" cy="93.6" rx="5.0" ry="2.5" fill="#000" fill-opacity="0.4"/>
<ellipse cx="512.4" cy="121.3" rx="5.0" ry="2.5" fill="#000" fill-opacity="0.4"/>
<ellipse cx="571.6" cy="76.0" rx="5.0" ry="2.5" fill="#000" fill-opacity="0.4"/>
<ellipse cx="573.0" cy="103.2" rx="5.0" ry="2.5" fill="#000" fill-opacity="0.4"/>
<ellipse cx="575.0" cy="96.7" rx="5.0" ry="2.5" fill="#000" fill-opacity="0.4"/>
<ellipse cx="548.2" cy="100.1" rx="5.0" ry="2.5" fill="#000" fill-opacity="0.4"/>
<ellipse cx="559.8" cy="103.7" rx="5.0" ry="2.5" fill="#000" fill-opacity="0.4"/>
<ellipse cx="549.3" cy="94.2" rx="5.0" ry="2.5" fill="#000" fill-opacity="0.4"/>
<ellipse cx="542.4" cy="114.9" rx="5.0" ry="2.5" fill="#000" fill-opacity="0.4"/>
<ellipse cx="580.1" cy="100.0" rx="5.0" ry="2.5" fill="#000" fill-opacity="0.4"/>
<ellipse cx="555.1" cy="113.9" rx="5.0" ry="2.5" fill="#000" fill-opacity="0.4"/>
<ellipse cx="589.1" cy="92.0" rx="5.0" ry="2.5" fill="#000" fill-opacity="0.4"/>
<ellipse cx="583.0" cy="86.5" rx="5.0" ry="2.5" fill="#000" fill-opacity="0.4"/>
<ellipse cx="580.6" cy="93.4" rx="5.0" ry="2.5" fill="#000" fill-opacity="0.4"/>
<ellipse cx="563.1" cy="94.1" rx="5.0" ry="2.5" fill="#000" fill-opacity="0.4"/>
</g>
<g fill="#1c2c3c" fill-opacity="0.7"><circle cx="456.3" cy="133.0" r="0.65"/><circle cx="464.1" cy="138.7" r="0.65"/><circle cx="471.7" cy="141.5" r="0.65"/><circle cx="470.3" cy="115.3" r="0.65"/><circle cx="467.0" cy="153.3" r="0.65"/><circle cx="476.0" cy="153.6" r="0.65"/><circle cx="486.7" cy="153.3" r="0.65"/><circle cx="485.0" cy="157.5" r="0.65"/><circle cx="521.6" cy="149.4" r="0.65"/><circle cx="539.3" cy="153.3" r="0.65"/><circle cx="542.7" cy="157.0" r="0.65"/><circle cx="548.3" cy="155.5" r="0.65"/><circle cx="544.9" cy="147.1" r="0.65"/><circle cx="556.7" cy="138.7" r="0.65"/><circle cx="491.4" cy="168.2" r="0.65"/><circle cx="506.9" cy="168.2" r="0.65"/><circle cx="538.7" cy="168.2" r="0.65"/><circle cx="549.7" cy="166.8" r="0.65"/><circle cx="487.8" cy="187.1" r="0.65"/><circle cx="512.5" cy="187.1" r="0.65"/><circle cx="620.9" cy="81.0" r="0.65"/><circle cx="521.6" cy="81.5" r="0.65"/></g>
<rect x="449.7" y="54.4" width="178.3" height="137.4" fill="none" stroke="#606060" stroke-width="1.1"/>
<path d="M454.1 191.8v6 M488.05 191.8v6 M522 191.8v6 M555.9 191.8v6 M589.9 191.8v6 M623.8 191.8v6 M449.7 67h-6.3 M449.7 105.2h-6.3 M449.7 143.4h-6.3 M449.7 181.4h-6.3 M449.7 86h-6.3 M449.7 124.3h-6.3 M449.7 162.4h-6.3" stroke="#606060" stroke-width="1.1" fill="none"/>
<text x="454.1" y="213.8" font-family="Liberation Sans" font-size="10.3" font-weight="bold" fill="#3c3c3c" text-anchor="middle"  filter="url(#soft)">11.0</text>
<text x="488.05" y="213.8" font-family="Liberation Sans" font-size="10.3" font-weight="bold" fill="#3c3c3c" text-anchor="middle"  filter="url(#soft)">11.5</text>
<text x="522" y="213.8" font-family="Liberation Sans" font-size="10.3" font-weight="bold" fill="#3c3c3c" text-anchor="middle"  filter="url(#soft)">12.0</text>
<text x="555.9" y="213.8" font-family="Liberation Sans" font-size="10.3" font-weight="bold" fill="#3c3c3c" text-anchor="middle"  filter="url(#soft)">12.5</text>
<text x="589.9" y="213.8" font-family="Liberation Sans" font-size="10.3" font-weight="bold" fill="#3c3c3c" text-anchor="middle"  filter="url(#soft)">13.0</text>
<text x="623.8" y="213.8" font-family="Liberation Sans" font-size="10.3" font-weight="bold" fill="#3c3c3c" text-anchor="middle"  filter="url(#soft)">13.5</text>
<text transform="translate(436.5,67) rotate(-90)" font-family="Liberation Sans" font-size="10.3" font-weight="bold" fill="#3c3c3c" text-anchor="middle"  filter="url(#soft)">6.0</text>
<text transform="translate(436.5,105.2) rotate(-90)" font-family="Liberation Sans" font-size="10.3" font-weight="bold" fill="#3c3c3c" text-anchor="middle"  filter="url(#soft)">5.0</text>
<text transform="translate(436.5,143.4) rotate(-90)" font-family="Liberation Sans" font-size="10.3" font-weight="bold" fill="#3c3c3c" text-anchor="middle"  filter="url(#soft)">4.0</text>
<text transform="translate(436.5,181.4) rotate(-90)" font-family="Liberation Sans" font-size="10.3" font-weight="bold" fill="#3c3c3c" text-anchor="middle"  filter="url(#soft)">3.0</text>
<text x="524.1" y="34.3" font-family="Liberation Sans" font-size="11.1" font-weight="bold" fill="#2a2a2a" text-anchor="start" textLength="28.9" lengthAdjust="spacingAndGlyphs"  filter="url(#soft)">MGW</text>
<text x="585.5" y="69.3" font-family="Liberation Sans" font-size="10.5" font-weight="normal" fill="#dc4650" text-anchor="start" textLength="37.5" lengthAdjust="spacingAndGlyphs"  stroke="#dc4650" stroke-width="0.3" filter="url(#soft)">R=0.656</text>
<text transform="translate(413.1,176.2) rotate(-90)" font-family="Liberation Serif" font-size="18.3" font-weight="normal" fill="#222" text-anchor="start" textLength="80.6" lengthAdjust="spacingAndGlyphs"  stroke="#222" stroke-width="0.35" filter="url(#soft)">DNAshape</text>
<text x="506.9" y="238.1" font-family="Liberation Serif" font-size="18" font-weight="normal" fill="#222" text-anchor="start" textLength="67.5" lengthAdjust="spacingAndGlyphs"  stroke="#222" stroke-width="0.35" filter="url(#soft)">DynaSeq</text>
<g filter="url(#dens3)">
<polygon points="221.3,352.0 236.1,346.1 256.9,347.6 267.2,355.0 259.8,365.4 245.0,371.3 227.2,368.3 218.3,360.9" fill="#000" fill-opacity="0.18"/>
<polygon points="209.4,347.6 218.3,340.2 233.1,337.2 250.9,337.2 268.7,340.2 277.6,347.6 274.6,359.4 265.7,369.8 253.9,375.7 239.1,378.7 224.3,375.7 212.4,368.3 208.0,358.0" fill="#000" fill-opacity="0.24"/>
<polygon points="108.7,409.8 117.6,400.9 138.3,399.4 159.1,395.0 182.8,395.0 203.5,398.0 212.4,403.9 203.5,412.8 185.7,417.2 162.0,418.7 138.3,420.2 117.6,418.7" fill="#000" fill-opacity="0.2"/>
<polygon points="93.9,412.8 96.9,400.9 105.7,395.0 123.5,392.6 141.3,390.6 153.1,384.6 170.9,381.7 182.8,386.1 197.6,387.6 212.4,392.0 219.8,399.4 218.3,409.8 209.4,417.2 197.6,423.1 185.7,429.1 170.9,429.1 156.1,430.6 141.3,432.0 123.5,433.5 108.7,432.0 96.9,427.6 92.4,420.2" fill="#000" fill-opacity="0.2"/>
<ellipse cx="129.4" cy="409.2" rx="10.7" ry="3.3" fill="#000" fill-opacity="0.7"/>
<ellipse cx="184.3" cy="405.4" rx="11.9" ry="3.3" fill="#000" fill-opacity="0.7" transform="rotate(-5 184.3 405.4)"/>
<ellipse cx="156.1" cy="406.9" rx="38.5" ry="4.1" fill="#000" fill-opacity="0.3" transform="rotate(-4 156.1 406.9)"/>
<ellipse cx="242.0" cy="358.6" rx="11.9" ry="3.3" fill="#000" fill-opacity="0.65" transform="rotate(-3 242.0 358.6)"/>
<ellipse cx="212.4" cy="329.2" rx="4.5" ry="4.5" fill="#000" fill-opacity="0.5"/>
<ellipse cx="229.3" cy="326.3" rx="4.5" ry="4.5" fill="#000" fill-opacity="0.5"/>
<ellipse cx="225.7" cy="331.3" rx="4.5" ry="4.5" fill="#000" fill-opacity="0.5"/>
<ellipse cx="249.4" cy="328.3" rx="4.5" ry="4.5" fill="#000" fill-opacity="0.5"/>
<ellipse cx="210.9" cy="343.7" rx="4.5" ry="4.5" fill="#000" fill-opacity="0.5"/>
<ellipse cx="219.8" cy="375.7" rx="4.5" ry="4.5" fill="#000" fill-opacity="0.5"/>
<ellipse cx="218.9" cy="380.8" rx="4.5" ry="4.5" fill="#000" fill-opacity="0.5"/>
<ellipse cx="242.0" cy="376.6" rx="4.5" ry="4.5" fill="#000" fill-opacity="0.5"/>
<ellipse cx="273.4" cy="344.0" rx="4.5" ry="4.5" fill="#000" fill-opacity="0.5"/>
<ellipse cx="99.2" cy="420.8" rx="4.5" ry="4.5" fill="#000" fill-opacity="0.5"/>
<ellipse cx="96.9" cy="424.6" rx="4.5" ry="4.5" fill="#000" fill-opacity="0.5"/>
<ellipse cx="97.4" cy="433.5" rx="4.5" ry="4.5" fill="#000" fill-opacity="0.5"/>
<ellipse cx="105.7" cy="438.0" rx="4.5" ry="4.5" fill="#000" fill-opacity="0.5"/>
<ellipse cx="110.2" cy="431.1" rx="4.5" ry="4.5" fill="#000" fill-opacity="0.5"/>
<ellipse cx="136.9" cy="435.9" rx="4.5" ry="4.5" fill="#000" fill-opacity="0.5"/>
<ellipse cx="136.9" cy="442.4" rx="4.5" ry="4.5" fill="#000" fill-opacity="0.5"/>
<ellipse cx="148.7" cy="437.1" rx="4.5" ry="4.5" fill="#000" fill-opacity="0.5"/>
<ellipse cx="153.1" cy="437.1" rx="4.5" ry="4.5" fill="#000" fill-opacity="0.5"/>
<ellipse cx="147.2" cy="430.6" rx="4.5" ry="4.5" fill="#000" fill-opacity="0.5"/>
<ellipse cx="165.6" cy="427.6" rx="4.5" ry="4.5" fill="#000" fill-opacity="0.5"/>
<ellipse cx="176.9" cy="438.0" rx="4.5" ry="4.5" fill="#000" fill-opacity="0.5"/>
<ellipse cx="138.3" cy="453.7" rx="4.5" ry="4.5" fill="#000" fill-opacity="0.5"/>
<ellipse cx="176.9" cy="385.2" rx="4.5" ry="4.5" fill="#000" fill-opacity="0.5"/>
<ellipse cx="217.1" cy="405.3" rx="4.0" ry="4.0" fill="#000" fill-opacity="0.36"/>
<ellipse cx="184.0" cy="419.8" rx="4.0" ry="4.0" fill="#000" fill-opacity="0.36"/>
<ellipse cx="169.2" cy="388.0" rx="4.0" ry="4.0" fill="#000" fill-opacity="0.36"/>
<ellipse cx="141.1" cy="427.8" rx="4.0" ry="4.0" fill="#000" fill-opacity="0.36"/>
<ellipse cx="108.7" cy="408.8" rx="4.0" ry="4.0" fill="#000" fill-opacity="0.36"/>
<ellipse cx="115.8" cy="402.9" rx="4.0" ry="4.0" fill="#000" fill-opacity="0.36"/>
<ellipse cx="165.3" cy="424.5" rx="4.0" ry="4.0" fill="#000" fill-opacity="0.36"/>
<ellipse cx="124.1" cy="400.8" rx="4.0" ry="4.0" fill="#000" fill-opacity="0.36"/>
<ellipse cx="171.2" cy="406.3" rx="4.0" ry="4.0" fill="#000" fill-opacity="0.36"/>
<ellipse cx="119.9" cy="432.8" rx="4.0" ry="4.0" fill="#000" fill-opacity="0.36"/>
<ellipse cx="159.8" cy="418.4" rx="4.0" ry="4.0" fill="#000" fill-opacity="0.36"/>
<ellipse cx="130.2" cy="406.6" rx="4.0" ry="4.0" fill="#000" fill-opacity="0.36"/>
<ellipse cx="196.0" cy="417.9" rx="4.0" ry="4.0" fill="#000" fill-opacity="0.36"/>
<ellipse cx="182.7" cy="396.8" rx="4.0" ry="4.0" fill="#000" fill-opacity="0.36"/>
<ellipse cx="149.0" cy="420.5" rx="4.0" ry="4.0" fill="#000" fill-opacity="0.36"/>
<ellipse cx="100.6" cy="404.7" rx="4.0" ry="4.0" fill="#000" fill-opacity="0.36"/>
<ellipse cx="98.1" cy="415.2" rx="4.0" ry="4.0" fill="#000" fill-opacity="0.36"/>
<ellipse cx="203.6" cy="409.8" rx="4.0" ry="4.0" fill="#000" fill-opacity="0.36"/>
<ellipse cx="140.8" cy="406.4" rx="4.0" ry="4.0" fill="#000" fill-opacity="0.36"/>
<ellipse cx="179.7" cy="425.7" rx="4.0" ry="4.0" fill="#000" fill-opacity="0.36"/>
<ellipse cx="131.8" cy="429.3" rx="4.0" ry="4.0" fill="#000" fill-opacity="0.36"/>
<ellipse cx="136.4" cy="398.9" rx="4.0" ry="4.0" fill="#000" fill-opacity="0.36"/>
<ellipse cx="147.0" cy="396.7" rx="4.0" ry="4.0" fill="#000" fill-opacity="0.36"/>
<ellipse cx="203.2" cy="396.5" rx="4.0" ry="4.0" fill="#000" fill-opacity="0.36"/>
<ellipse cx="158.8" cy="402.4" rx="4.0" ry="4.0" fill="#000" fill-opacity="0.36"/>
<ellipse cx="168.1" cy="398.7" rx="4.0" ry="4.0" fill="#000" fill-opacity="0.36"/>
<ellipse cx="193.6" cy="403.5" rx="4.0" ry="4.0" fill="#000" fill-opacity="0.36"/>
<ellipse cx="109.8" cy="421.8" rx="4.0" ry="4.0" fill="#000" fill-opacity="0.36"/>
<ellipse cx="206.4" cy="417.0" rx="4.0" ry="4.0" fill="#000" fill-opacity="0.36"/>
<ellipse cx="117.2" cy="416.2" rx="4.0" ry="4.0" fill="#000" fill-opacity="0.36"/>
<ellipse cx="213.8" cy="413.1" rx="4.0" ry="4.0" fill="#000" fill-opacity="0.36"/>
<ellipse cx="140.2" cy="391.9" rx="4.0" ry="4.0" fill="#000" fill-opacity="0.36"/>
<ellipse cx="133.7" cy="416.2" rx="4.0" ry="4.0" fill="#000" fill-opacity="0.36"/>
<ellipse cx="176.3" cy="383.9" rx="4.0" ry="4.0" fill="#000" fill-opacity="0.36"/>
<ellipse cx="180.0" cy="412.3" rx="4.0" ry="4.0" fill="#000" fill-opacity="0.36"/>
<ellipse cx="130.6" cy="393.9" rx="4.0" ry="4.0" fill="#000" fill-opacity="0.36"/>
<ellipse cx="126.0" cy="420.2" rx="4.0" ry="4.0" fill="#000" fill-opacity="0.36"/>
<ellipse cx="152.8" cy="409.9" rx="4.0" ry="4.0" fill="#000" fill-opacity="0.36"/>
<ellipse cx="107.9" cy="398.2" rx="4.0" ry="4.0" fill="#000" fill-opacity="0.36"/>
<ellipse cx="152.4" cy="388.8" rx="4.0" ry="4.0" fill="#000" fill-opacity="0.36"/>
<ellipse cx="204.8" cy="411.4" rx="4.0" ry="4.0" fill="#000" fill-opacity="0.36"/>
<ellipse cx="168.0" cy="396.6" rx="4.0" ry="4.0" fill="#000" fill-opacity="0.36"/>
<ellipse cx="153.7" cy="404.3" rx="4.0" ry="4.0" fill="#000" fill-opacity="0.36"/>
<ellipse cx="174.1" cy="405.1" rx="4.0" ry="4.0" fill="#000" fill-opacity="0.36"/>
<ellipse cx="191.8" cy="401.9" rx="4.0" ry="4.0" fill="#000" fill-opacity="0.36"/>
<ellipse cx="123.9" cy="415.1" rx="4.0" ry="4.0" fill="#000" fill-opacity="0.36"/>
<ellipse cx="129.3" cy="419.2" rx="4.0" ry="4.0" fill="#000" fill-opacity="0.36"/>
<ellipse cx="139.8" cy="407.7" rx="4.0" ry="4.0" fill="#000" fill-opacity="0.36"/>
<ellipse cx="147.0" cy="409.5" rx="4.0" ry="4.0" fill="#000" fill-opacity="0.36"/>
<ellipse cx="184.6" cy="402.7" rx="4.0" ry="4.0" fill="#000" fill-opacity="0.36"/>
<ellipse cx="194.8" cy="413.8" rx="4.0" ry="4.0" fill="#000" fill-opacity="0.36"/>
<ellipse cx="160.8" cy="399.5" rx="4.0" ry="4.0" fill="#000" fill-opacity="0.36"/>
<ellipse cx="180.9" cy="410.9" rx="4.0" ry="4.0" fill="#000" fill-opacity="0.36"/>
<ellipse cx="184.6" cy="416.2" rx="4.0" ry="4.0" fill="#000" fill-opacity="0.36"/>
<ellipse cx="156.8" cy="418.5" rx="4.0" ry="4.0" fill="#000" fill-opacity="0.36"/>
<ellipse cx="159.1" cy="410.0" rx="4.0" ry="4.0" fill="#000" fill-opacity="0.36"/>
<ellipse cx="111.7" cy="412.7" rx="4.0" ry="4.0" fill="#000" fill-opacity="0.36"/>
<ellipse cx="189.4" cy="408.6" rx="4.0" ry="4.0" fill="#000" fill-opacity="0.36"/>
<ellipse cx="200.0" cy="399.1" rx="4.0" ry="4.0" fill="#000" fill-opacity="0.36"/>
<ellipse cx="121.5" cy="405.2" rx="4.0" ry="4.0" fill="#000" fill-opacity="0.36"/>
<ellipse cx="144.9" cy="399.7" rx="4.0" ry="4.0" fill="#000" fill-opacity="0.36"/>
<ellipse cx="152.5" cy="397.5" rx="4.0" ry="4.0" fill="#000" fill-opacity="0.36"/>
<ellipse cx="113.7" cy="406.3" rx="4.0" ry="4.0" fill="#000" fill-opacity="0.36"/>
<ellipse cx="197.9" cy="407.7" rx="4.0" ry="4.0" fill="#000" fill-opacity="0.36"/>
<ellipse cx="132.6" cy="409.4" rx="4.0" ry="4.0" fill="#000" fill-opacity="0.36"/>
<ellipse cx="275.2" cy="356.5" rx="4.0" ry="4.0" fill="#000" fill-opacity="0.36"/>
<ellipse cx="225.7" cy="356.4" rx="4.0" ry="4.0" fill="#000" fill-opacity="0.36"/>
<ellipse cx="245.0" cy="339.1" rx="4.0" ry="4.0" fill="#000" fill-opacity="0.36"/>
<ellipse cx="266.9" cy="363.9" rx="4.0" ry="4.0" fill="#000" fill-opacity="0.36"/>
<ellipse cx="235.8" cy="371.0" rx="4.0" ry="4.0" fill="#000" fill-opacity="0.36"/>
<ellipse cx="215.8" cy="355.8" rx="4.0" ry="4.0" fill="#000" fill-opacity="0.36"/>
<ellipse cx="236.5" cy="350.6" rx="4.0" ry="4.0" fill="#000" fill-opacity="0.36"/>
<ellipse cx="248.5" cy="359.4" rx="4.0" ry="4.0" fill="#000" fill-opacity="0.36"/>
<ellipse cx="248.0" cy="367.4" rx="4.0" ry="4.0" fill="#000" fill-opacity="0.36"/>
<ellipse cx="243.4" cy="374.8" rx="4.0" ry="4.0" fill="#000" fill-opacity="0.36"/>
<ellipse cx="267.4" cy="352.7" rx="4.0" ry="4.0" fill="#000" fill-opacity="0.36"/>
<ellipse cx="229.0" cy="376.5" rx="4.0" ry="4.0" fill="#000" fill-opacity="0.36"/>
<ellipse cx="217.6" cy="364.6" rx="4.0" ry="4.0" fill="#000" fill-opacity="0.36"/>
<ellipse cx="222.3" cy="345.0" rx="4.0" ry="4.0" fill="#000" fill-opacity="0.36"/>
<ellipse cx="247.8" cy="346.7" rx="4.0" ry="4.0" fill="#000" fill-opacity="0.36"/>
<ellipse cx="262.5" cy="344.6" rx="4.0" ry="4.0" fill="#000" fill-opacity="0.36"/>
<ellipse cx="254.0" cy="339.4" rx="4.0" ry="4.0" fill="#000" fill-opacity="0.36"/>
<ellipse cx="214.4" cy="348.5" rx="4.0" ry="4.0" fill="#000" fill-opacity="0.36"/>
<ellipse cx="233.1" cy="340.1" rx="4.0" ry="4.0" fill="#000" fill-opacity="0.36"/>
<ellipse cx="254.8" cy="350.0" rx="4.0" ry="4.0" fill="#000" fill-opacity="0.36"/>
<ellipse cx="259.0" cy="360.5" rx="4.0" ry="4.0" fill="#000" fill-opacity="0.36"/>
<ellipse cx="229.8" cy="365.5" rx="4.0" ry="4.0" fill="#000" fill-opacity="0.36"/>
<ellipse cx="258.6" cy="367.8" rx="4.0" ry="4.0" fill="#000" fill-opacity="0.36"/>
<ellipse cx="223.2" cy="372.1" rx="4.0" ry="4.0" fill="#000" fill-opacity="0.36"/>
<ellipse cx="270.7" cy="344.5" rx="4.0" ry="4.0" fill="#000" fill-opacity="0.36"/>
<ellipse cx="251.5" cy="362.1" rx="4.0" ry="4.0" fill="#000" fill-opacity="0.36"/>
<ellipse cx="230.7" cy="352.6" rx="4.0" ry="4.0" fill="#000" fill-opacity="0.36"/>
<ellipse cx="224.3" cy="356.1" rx="4.0" ry="4.0" fill="#000" fill-opacity="0.36"/>
<ellipse cx="256.0" cy="354.8" rx="4.0" ry="4.0" fill="#000" fill-opacity="0.36"/>
<ellipse cx="242.4" cy="353.2" rx="4.0" ry="4.0" fill="#000" fill-opacity="0.36"/>
<ellipse cx="238.4" cy="362.4" rx="4.0" ry="4.0" fill="#000" fill-opacity="0.36"/>
<ellipse cx="246.8" cy="366.8" rx="4.0" ry="4.0" fill="#000" fill-opacity="0.36"/>
<ellipse cx="250.0" cy="347.6" rx="4.0" ry="4.0" fill="#000" fill-opacity="0.36"/>
<ellipse cx="262.4" cy="360.4" rx="4.0" ry="4.0" fill="#000" fill-opacity="0.36"/>
<ellipse cx="226.3" cy="366.4" rx="4.0" ry="4.0" fill="#000" fill-opacity="0.36"/>
</g>
<g fill="#1c2c3c" fill-opacity="0.7"><circle cx="212.4" cy="329.2" r="0.65"/><circle cx="229.3" cy="326.3" r="0.65"/><circle cx="225.7" cy="331.3" r="0.65"/><circle cx="249.4" cy="328.3" r="0.65"/><circle cx="210.9" cy="343.7" r="0.65"/><circle cx="219.8" cy="375.7" r="0.65"/><circle cx="218.9" cy="380.8" r="0.65"/><circle cx="242.0" cy="376.6" r="0.65"/><circle cx="273.4" cy="344.0" r="0.65"/><circle cx="99.2" cy="420.8" r="0.65"/><circle cx="96.9" cy="424.6" r="0.65"/><circle cx="97.4" cy="433.5" r="0.65"/><circle cx="105.7" cy="438.0" r="0.65"/><circle cx="110.2" cy="431.1" r="0.65"/><circle cx="136.9" cy="435.9" r="0.65"/><circle cx="136.9" cy="442.4" r="0.65"/><circle cx="148.7" cy="437.1" r="0.65"/><circle cx="153.1" cy="437.1" r="0.65"/><circle cx="147.2" cy="430.6" r="0.65"/><circle cx="165.6" cy="427.6" r="0.65"/><circle cx="176.9" cy="438.0" r="0.65"/><circle cx="138.3" cy="453.7" r="0.65"/><circle cx="176.9" cy="385.2" r="0.65"/></g>
<rect x="90.0" y="321.3" width="191.1" height="137.7" fill="none" stroke="#606060" stroke-width="1.1"/>
<path d="M101.7 459.0v6 M137.9 459.0v6 M174.1 459.0v6 M210.2 459.0v6 M246.4 459.0v6 M90.0 353h-6.3 M90.0 390.3h-6.3 M90.0 427.7h-6.3" stroke="#606060" stroke-width="1.1" fill="none"/>
<text transform="translate(101.7,479.7) scale(1.12,1)" font-family="Liberation Sans" font-size="10.3" font-weight="bold" fill="#3c3c3c" text-anchor="middle" filter="url(#soft)">0</text>
<text transform="translate(137.9,479.7) scale(1.12,1)" font-family="Liberation Sans" font-size="10.3" font-weight="bold" fill="#3c3c3c" text-anchor="middle" filter="url(#soft)">2</text>
<text transform="translate(174.1,479.7) scale(1.12,1)" font-family="Liberation Sans" font-size="10.3" font-weight="bold" fill="#3c3c3c" text-anchor="middle" filter="url(#soft)">4</text>
<text transform="translate(210.2,479.7) scale(1.12,1)" font-family="Liberation Sans" font-size="10.3" font-weight="bold" fill="#3c3c3c" text-anchor="middle" filter="url(#soft)">6</text>
<text transform="translate(246.4,479.7) scale(1.12,1)" font-family="Liberation Sans" font-size="10.3" font-weight="bold" fill="#3c3c3c" text-anchor="middle" filter="url(#soft)">8</text>
<text transform="translate(75.3,353) rotate(-90)" font-family="Liberation Sans" font-size="10.3" font-weight="bold" fill="#3c3c3c" text-anchor="middle"  filter="url(#soft)">5</text>
<text transform="translate(75.3,390.3) rotate(-90)" font-family="Liberation Sans" font-size="10.3" font-weight="bold" fill="#3c3c3c" text-anchor="middle"  filter="url(#soft)">0</text>
<text transform="translate(75.3,427.7) rotate(-90)" font-family="Liberation Sans" font-size="10.3" font-weight="bold" fill="#3c3c3c" text-anchor="middle"  filter="url(#soft)">−5</text>
<text x="173.8" y="301.3" font-family="Liberation Sans" font-size="11.1" font-weight="bold" fill="#2a2a2a" text-anchor="start" textLength="22.9" lengthAdjust="spacingAndGlyphs"  filter="url(#soft)">Roll</text>
<text x="235.1" y="335.5" font-family="Liberation Sans" font-size="10.5" font-weight="normal" fill="#dc4650" text-anchor="start" textLength="40" lengthAdjust="spacingAndGlyphs"  stroke="#dc4650" stroke-width="0.3" filter="url(#soft)">R=0.735</text>
<text transform="translate(51.3,425.3) rotate(-90)" font-family="Liberation Serif" font-size="18.3" font-weight="normal" fill="#222" text-anchor="start" textLength="80.1" lengthAdjust="spacingAndGlyphs"  stroke="#222" stroke-width="0.35" filter="url(#soft)">DNAshape</text>
<text x="145.1" y="502" font-family="Liberation Serif" font-size="18" font-weight="normal" fill="#222" text-anchor="start" textLength="67.9" lengthAdjust="spacingAndGlyphs"  stroke="#222" stroke-width="0.35" filter="url(#soft)">DynaSeq</text>
<g filter="url(#dens4)">
<polygon points="507.8,396.0 530.4,383.3 552.9,376.3 572.6,379.1 567.0,393.2 544.4,401.6 521.9,404.4" fill="#000" fill-opacity="0.25"/>
<polygon points="485.3,412.9 491.0,396.0 505.0,384.7 521.9,373.5 530.4,356.6 536.0,342.5 550.1,338.3 572.6,341.1 592.3,348.1 612.0,352.4 620.4,356.6 609.2,366.4 595.1,376.3 583.8,387.5 575.4,398.8 567.0,410.1 552.9,417.1 533.2,418.5 513.5,419.9 496.6,421.3" fill="#000" fill-opacity="0.25"/>
<polygon points="471.3,412.9 474.1,398.8 479.7,387.5 491.0,376.3 502.2,367.8 513.5,359.4 521.9,345.3 530.4,334.1 544.4,329.9 561.3,331.3 578.2,334.1 592.3,338.3 606.4,343.9 620.4,348.1 634.5,348.1 640.1,352.4 631.7,362.2 620.4,369.3 612.0,379.1 600.7,387.5 592.3,396.0 583.8,404.4 578.2,415.7 572.6,424.1 558.5,429.8 547.3,432.6 541.6,441.0 538.8,452.3 533.2,460.7 521.9,457.9 513.5,452.3 505.0,453.7 493.8,460.7 485.3,460.7 476.9,452.3 474.1,441.0 471.3,427.0" fill="#000" fill-opacity="0.2"/>
<polygon points="463.9,385.3 469.0,381.4 477.7,377.7 482.2,369.0 494.1,361.4 495.5,352.6 504.5,349.0 507.3,342.2 519.4,337.7 522.2,331.0 526.7,326.2 641.8,326.2 641.8,361.7 635.9,365.0 631.7,374.9 620.4,380.5 616.2,390.4 602.1,393.2 597.9,401.6 583.8,404.4 581.0,417.1 579.6,427.0 568.4,431.2 554.3,438.2 550.1,443.8 550.1,461.6 523.3,461.6 520.5,458.5 507.8,457.9 502.2,461.6 463.9,461.6" fill="#000" fill-opacity="0.035"/>
<ellipse cx="550.1" cy="386.1" rx="9.0" ry="3.4" fill="#000" fill-opacity="0.8" transform="rotate(-10 550.1 386.1)"/>
<ellipse cx="533.2" cy="393.2" rx="8.4" ry="3.1" fill="#000" fill-opacity="0.7" transform="rotate(-10 533.2 393.2)"/>
<ellipse cx="541.6" cy="390.4" rx="22.5" ry="7.0" fill="#000" fill-opacity="0.3" transform="rotate(-15 541.6 390.4)"/>
<ellipse cx="550.1" cy="331.3" rx="5.0" ry="3.7" fill="#000" fill-opacity="0.5"/>
<ellipse cx="597.9" cy="331.3" rx="5.0" ry="3.7" fill="#000" fill-opacity="0.5"/>
<ellipse cx="602.1" cy="330.7" rx="5.0" ry="3.7" fill="#000" fill-opacity="0.5"/>
<ellipse cx="626.1" cy="355.2" rx="5.0" ry="3.7" fill="#000" fill-opacity="0.5"/>
<ellipse cx="630.3" cy="353.2" rx="5.0" ry="3.7" fill="#000" fill-opacity="0.5"/>
<ellipse cx="635.1" cy="351.5" rx="5.0" ry="3.7" fill="#000" fill-opacity="0.5"/>
<ellipse cx="493.8" cy="376.3" rx="5.0" ry="3.7" fill="#000" fill-opacity="0.5"/>
<ellipse cx="500.8" cy="373.5" rx="5.0" ry="3.7" fill="#000" fill-opacity="0.5"/>
<ellipse cx="507.8" cy="370.7" rx="5.0" ry="3.7" fill="#000" fill-opacity="0.5"/>
<ellipse cx="479.7" cy="390.4" rx="5.0" ry="3.7" fill="#000" fill-opacity="0.5"/>
<ellipse cx="471.3" cy="412.0" rx="5.0" ry="3.7" fill="#000" fill-opacity="0.5"/>
<ellipse cx="475.5" cy="410.1" rx="5.0" ry="3.7" fill="#000" fill-opacity="0.5"/>
<ellipse cx="474.1" cy="416.5" rx="5.0" ry="3.7" fill="#000" fill-opacity="0.5"/>
<ellipse cx="471.3" cy="424.1" rx="5.0" ry="3.7" fill="#000" fill-opacity="0.5"/>
<ellipse cx="476.9" cy="425.0" rx="5.0" ry="3.7" fill="#000" fill-opacity="0.5"/>
<ellipse cx="476.9" cy="434.0" rx="5.0" ry="3.7" fill="#000" fill-opacity="0.5"/>
<ellipse cx="550.1" cy="423.3" rx="5.0" ry="3.7" fill="#000" fill-opacity="0.5"/>
<ellipse cx="562.2" cy="421.9" rx="5.0" ry="3.7" fill="#000" fill-opacity="0.5"/>
<ellipse cx="519.7" cy="437.4" rx="5.0" ry="3.7" fill="#000" fill-opacity="0.5"/>
<ellipse cx="521.9" cy="445.2" rx="5.0" ry="3.7" fill="#000" fill-opacity="0.5"/>
<ellipse cx="530.4" cy="443.8" rx="5.0" ry="3.7" fill="#000" fill-opacity="0.5"/>
<ellipse cx="501.4" cy="445.8" rx="5.0" ry="3.7" fill="#000" fill-opacity="0.5"/>
<ellipse cx="488.1" cy="457.9" rx="5.0" ry="3.7" fill="#000" fill-opacity="0.5"/>
<ellipse cx="536.6" cy="457.9" rx="5.0" ry="3.7" fill="#000" fill-opacity="0.5"/>
<ellipse cx="594.9" cy="359.6" rx="4.5" ry="3.3" fill="#000" fill-opacity="0.4"/>
<ellipse cx="527.1" cy="423.3" rx="4.5" ry="3.3" fill="#000" fill-opacity="0.4"/>
<ellipse cx="499.4" cy="447.0" rx="4.5" ry="3.3" fill="#000" fill-opacity="0.4"/>
<ellipse cx="491.2" cy="415.6" rx="4.5" ry="3.3" fill="#000" fill-opacity="0.4"/>
<ellipse cx="526.9" cy="414.3" rx="4.5" ry="3.3" fill="#000" fill-opacity="0.4"/>
<ellipse cx="537.3" cy="372.0" rx="4.5" ry="3.3" fill="#000" fill-opacity="0.4"/>
<ellipse cx="576.2" cy="412.1" rx="4.5" ry="3.3" fill="#000" fill-opacity="0.4"/>
<ellipse cx="540.4" cy="390.9" rx="4.5" ry="3.3" fill="#000" fill-opacity="0.4"/>
<ellipse cx="561.8" cy="363.7" rx="4.5" ry="3.3" fill="#000" fill-opacity="0.4"/>
<ellipse cx="501.6" cy="404.3" rx="4.5" ry="3.3" fill="#000" fill-opacity="0.4"/>
<ellipse cx="488.2" cy="408.1" rx="4.5" ry="3.3" fill="#000" fill-opacity="0.4"/>
<ellipse cx="513.9" cy="384.1" rx="4.5" ry="3.3" fill="#000" fill-opacity="0.4"/>
<ellipse cx="563.7" cy="412.7" rx="4.5" ry="3.3" fill="#000" fill-opacity="0.4"/>
<ellipse cx="501.5" cy="398.3" rx="4.5" ry="3.3" fill="#000" fill-opacity="0.4"/>
<ellipse cx="576.8" cy="340.9" rx="4.5" ry="3.3" fill="#000" fill-opacity="0.4"/>
<ellipse cx="608.6" cy="361.7" rx="4.5" ry="3.3" fill="#000" fill-opacity="0.4"/>
<ellipse cx="563.7" cy="399.8" rx="4.5" ry="3.3" fill="#000" fill-opacity="0.4"/>
<ellipse cx="592.8" cy="370.5" rx="4.5" ry="3.3" fill="#000" fill-opacity="0.4"/>
<ellipse cx="559.5" cy="425.9" rx="4.5" ry="3.3" fill="#000" fill-opacity="0.4"/>
<ellipse cx="569.0" cy="333.5" rx="4.5" ry="3.3" fill="#000" fill-opacity="0.4"/>
<ellipse cx="626.1" cy="355.9" rx="4.5" ry="3.3" fill="#000" fill-opacity="0.4"/>
<ellipse cx="553.1" cy="389.1" rx="4.5" ry="3.3" fill="#000" fill-opacity="0.4"/>
<ellipse cx="574.6" cy="370.0" rx="4.5" ry="3.3" fill="#000" fill-opacity="0.4"/>
<ellipse cx="473.2" cy="420.1" rx="4.5" ry="3.3" fill="#000" fill-opacity="0.4"/>
<ellipse cx="527.2" cy="353.1" rx="4.5" ry="3.3" fill="#000" fill-opacity="0.4"/>
<ellipse cx="510.2" cy="362.5" rx="4.5" ry="3.3" fill="#000" fill-opacity="0.4"/>
<ellipse cx="483.4" cy="445.6" rx="4.5" ry="3.3" fill="#000" fill-opacity="0.4"/>
<ellipse cx="566.3" cy="381.6" rx="4.5" ry="3.3" fill="#000" fill-opacity="0.4"/>
<ellipse cx="554.7" cy="381.4" rx="4.5" ry="3.3" fill="#000" fill-opacity="0.4"/>
<ellipse cx="507.9" cy="379.6" rx="4.5" ry="3.3" fill="#000" fill-opacity="0.4"/>
<ellipse cx="517.8" cy="447.4" rx="4.5" ry="3.3" fill="#000" fill-opacity="0.4"/>
<ellipse cx="493.8" cy="376.4" rx="4.5" ry="3.3" fill="#000" fill-opacity="0.4"/>
<ellipse cx="548.8" cy="331.3" rx="4.5" ry="3.3" fill="#000" fill-opacity="0.4"/>
<ellipse cx="606.0" cy="370.1" rx="4.5" ry="3.3" fill="#000" fill-opacity="0.4"/>
<ellipse cx="491.4" cy="434.5" rx="4.5" ry="3.3" fill="#000" fill-opacity="0.4"/>
<ellipse cx="525.8" cy="370.8" rx="4.5" ry="3.3" fill="#000" fill-opacity="0.4"/>
<ellipse cx="545.7" cy="385.8" rx="4.5" ry="3.3" fill="#000" fill-opacity="0.4"/>
<ellipse cx="510.7" cy="404.1" rx="4.5" ry="3.3" fill="#000" fill-opacity="0.4"/>
<ellipse cx="512.8" cy="437.6" rx="4.5" ry="3.3" fill="#000" fill-opacity="0.4"/>
<ellipse cx="568.3" cy="348.9" rx="4.5" ry="3.3" fill="#000" fill-opacity="0.4"/>
<ellipse cx="519.3" cy="408.8" rx="4.5" ry="3.3" fill="#000" fill-opacity="0.4"/>
<ellipse cx="622.5" cy="367.4" rx="4.5" ry="3.3" fill="#000" fill-opacity="0.4"/>
<ellipse cx="574.2" cy="361.9" rx="4.5" ry="3.3" fill="#000" fill-opacity="0.4"/>
<ellipse cx="541.7" cy="426.9" rx="4.5" ry="3.3" fill="#000" fill-opacity="0.4"/>
<ellipse cx="558.7" cy="418.3" rx="4.5" ry="3.3" fill="#000" fill-opacity="0.4"/>
<ellipse cx="550.7" cy="337.4" rx="4.5" ry="3.3" fill="#000" fill-opacity="0.4"/>
<ellipse cx="547.5" cy="365.2" rx="4.5" ry="3.3" fill="#000" fill-opacity="0.4"/>
<ellipse cx="603.5" cy="380.8" rx="4.5" ry="3.3" fill="#000" fill-opacity="0.4"/>
<ellipse cx="579.5" cy="347.1" rx="4.5" ry="3.3" fill="#000" fill-opacity="0.4"/>
<ellipse cx="480.4" cy="396.6" rx="4.5" ry="3.3" fill="#000" fill-opacity="0.4"/>
<ellipse cx="540.9" cy="349.9" rx="4.5" ry="3.3" fill="#000" fill-opacity="0.4"/>
<ellipse cx="531.3" cy="361.4" rx="4.5" ry="3.3" fill="#000" fill-opacity="0.4"/>
<ellipse cx="486.4" cy="381.9" rx="4.5" ry="3.3" fill="#000" fill-opacity="0.4"/>
<ellipse cx="571.2" cy="355.9" rx="4.5" ry="3.3" fill="#000" fill-opacity="0.4"/>
<ellipse cx="578.8" cy="394.5" rx="4.5" ry="3.3" fill="#000" fill-opacity="0.4"/>
<ellipse cx="509.3" cy="421.4" rx="4.5" ry="3.3" fill="#000" fill-opacity="0.4"/>
<ellipse cx="513.8" cy="397.1" rx="4.5" ry="3.3" fill="#000" fill-opacity="0.4"/>
<ellipse cx="551.0" cy="429.6" rx="4.5" ry="3.3" fill="#000" fill-opacity="0.4"/>
<ellipse cx="496.8" cy="409.6" rx="4.5" ry="3.3" fill="#000" fill-opacity="0.4"/>
<ellipse cx="594.4" cy="385.1" rx="4.5" ry="3.3" fill="#000" fill-opacity="0.4"/>
<ellipse cx="538.0" cy="344.4" rx="4.5" ry="3.3" fill="#000" fill-opacity="0.4"/>
<ellipse cx="578.7" cy="389.8" rx="4.5" ry="3.3" fill="#000" fill-opacity="0.4"/>
<ellipse cx="526.9" cy="398.6" rx="4.5" ry="3.3" fill="#000" fill-opacity="0.4"/>
<ellipse cx="552.5" cy="397.2" rx="4.5" ry="3.3" fill="#000" fill-opacity="0.4"/>
<ellipse cx="526.7" cy="368.6" rx="4.5" ry="3.3" fill="#000" fill-opacity="0.4"/>
<ellipse cx="542.2" cy="417.6" rx="4.5" ry="3.3" fill="#000" fill-opacity="0.4"/>
<ellipse cx="561.8" cy="361.3" rx="4.5" ry="3.3" fill="#000" fill-opacity="0.4"/>
<ellipse cx="488.5" cy="414.3" rx="4.5" ry="3.3" fill="#000" fill-opacity="0.4"/>
<ellipse cx="558.4" cy="344.2" rx="4.5" ry="3.3" fill="#000" fill-opacity="0.4"/>
<ellipse cx="535.4" cy="366.9" rx="4.5" ry="3.3" fill="#000" fill-opacity="0.4"/>
<ellipse cx="611.6" cy="358.1" rx="4.5" ry="3.3" fill="#000" fill-opacity="0.4"/>
<ellipse cx="568.6" cy="359.4" rx="4.5" ry="3.3" fill="#000" fill-opacity="0.4"/>
<ellipse cx="566.4" cy="402.2" rx="4.5" ry="3.3" fill="#000" fill-opacity="0.4"/>
<ellipse cx="562.4" cy="383.4" rx="4.5" ry="3.3" fill="#000" fill-opacity="0.4"/>
<ellipse cx="559.6" cy="368.2" rx="4.5" ry="3.3" fill="#000" fill-opacity="0.4"/>
<ellipse cx="503.7" cy="412.2" rx="4.5" ry="3.3" fill="#000" fill-opacity="0.4"/>
<ellipse cx="585.7" cy="372.8" rx="4.5" ry="3.3" fill="#000" fill-opacity="0.4"/>
<ellipse cx="521.3" cy="403.6" rx="4.5" ry="3.3" fill="#000" fill-opacity="0.4"/>
<ellipse cx="566.8" cy="369.8" rx="4.5" ry="3.3" fill="#000" fill-opacity="0.4"/>
<ellipse cx="531.5" cy="377.1" rx="4.5" ry="3.3" fill="#000" fill-opacity="0.4"/>
<ellipse cx="515.7" cy="390.1" rx="4.5" ry="3.3" fill="#000" fill-opacity="0.4"/>
<ellipse cx="560.7" cy="408.8" rx="4.5" ry="3.3" fill="#000" fill-opacity="0.4"/>
<ellipse cx="532.4" cy="407.2" rx="4.5" ry="3.3" fill="#000" fill-opacity="0.4"/>
<ellipse cx="545.5" cy="350.4" rx="4.5" ry="3.3" fill="#000" fill-opacity="0.4"/>
<ellipse cx="538.2" cy="402.4" rx="4.5" ry="3.3" fill="#000" fill-opacity="0.4"/>
<ellipse cx="505.1" cy="403.4" rx="4.5" ry="3.3" fill="#000" fill-opacity="0.4"/>
<ellipse cx="522.6" cy="385.8" rx="4.5" ry="3.3" fill="#000" fill-opacity="0.4"/>
<ellipse cx="540.2" cy="383.8" rx="4.5" ry="3.3" fill="#000" fill-opacity="0.4"/>
<ellipse cx="558.7" cy="349.6" rx="4.5" ry="3.3" fill="#000" fill-opacity="0.4"/>
<ellipse cx="566.1" cy="352.9" rx="4.5" ry="3.3" fill="#000" fill-opacity="0.4"/>
<ellipse cx="565.7" cy="346.7" rx="4.5" ry="3.3" fill="#000" fill-opacity="0.4"/>
<ellipse cx="551.4" cy="382.5" rx="4.5" ry="3.3" fill="#000" fill-opacity="0.4"/>
<ellipse cx="541.7" cy="394.2" rx="4.5" ry="3.3" fill="#000" fill-opacity="0.4"/>
<ellipse cx="590.3" cy="378.1" rx="4.5" ry="3.3" fill="#000" fill-opacity="0.4"/>
<ellipse cx="559.1" cy="392.9" rx="4.5" ry="3.3" fill="#000" fill-opacity="0.4"/>
<ellipse cx="572.8" cy="399.6" rx="4.5" ry="3.3" fill="#000" fill-opacity="0.4"/>
<ellipse cx="608.8" cy="366.4" rx="4.5" ry="3.3" fill="#000" fill-opacity="0.4"/>
<ellipse cx="532.1" cy="361.6" rx="4.5" ry="3.3" fill="#000" fill-opacity="0.4"/>
<ellipse cx="574.3" cy="349.0" rx="4.5" ry="3.3" fill="#000" fill-opacity="0.4"/>
<ellipse cx="580.0" cy="378.0" rx="4.5" ry="3.3" fill="#000" fill-opacity="0.4"/>
<ellipse cx="542.6" cy="385.0" rx="4.5" ry="3.3" fill="#000" fill-opacity="0.4"/>
<ellipse cx="548.1" cy="393.2" rx="4.5" ry="3.3" fill="#000" fill-opacity="0.4"/>
<ellipse cx="562.3" cy="379.2" rx="4.5" ry="3.3" fill="#000" fill-opacity="0.4"/>
<ellipse cx="558.9" cy="389.5" rx="4.5" ry="3.3" fill="#000" fill-opacity="0.4"/>
<ellipse cx="550.0" cy="387.9" rx="4.5" ry="3.3" fill="#000" fill-opacity="0.4"/>
<ellipse cx="535.0" cy="399.2" rx="4.5" ry="3.3" fill="#000" fill-opacity="0.4"/>
<ellipse cx="566.3" cy="388.7" rx="4.5" ry="3.3" fill="#000" fill-opacity="0.4"/>
<ellipse cx="525.9" cy="387.9" rx="4.5" ry="3.3" fill="#000" fill-opacity="0.4"/>
<ellipse cx="537.6" cy="389.2" rx="4.5" ry="3.3" fill="#000" fill-opacity="0.4"/>
<ellipse cx="527.5" cy="401.6" rx="4.5" ry="3.3" fill="#000" fill-opacity="0.4"/>
<ellipse cx="517.4" cy="390.8" rx="4.5" ry="3.3" fill="#000" fill-opacity="0.4"/>
<ellipse cx="528.0" cy="396.1" rx="4.5" ry="3.3" fill="#000" fill-opacity="0.4"/>
</g>
<polyline points="463.9,385.3 469.0,381.4 477.7,377.7 482.2,369.0 494.1,361.4 495.5,352.6 504.5,349.0 507.3,342.2 519.4,337.7 522.2,331.0 526.7,326.2" fill="none" stroke="#e4dcdc" stroke-width="0.9" stroke-linejoin="round"/>
<polyline points="641.8,361.7 635.9,365.0 631.7,374.9 620.4,380.5 616.2,390.4 602.1,393.2 597.9,401.6 583.8,404.4 581.0,417.1 579.6,427.0 568.4,431.2 554.3,438.2 550.1,443.8 550.1,461.6" fill="none" stroke="#e4dcdc" stroke-width="0.9" stroke-linejoin="round"/>
<polyline points="523.3,461.6 520.5,458.5 507.8,457.9 502.2,461.6" fill="none" stroke="#e4dcdc" stroke-width="0.9" stroke-linejoin="round"/>
<g fill="#1c2c3c" fill-opacity="0.7"><circle cx="550.1" cy="331.3" r="0.65"/><circle cx="597.9" cy="331.3" r="0.65"/><circle cx="602.1" cy="330.7" r="0.65"/><circle cx="626.1" cy="355.2" r="0.65"/><circle cx="630.3" cy="353.2" r="0.65"/><circle cx="635.1" cy="351.5" r="0.65"/><circle cx="493.8" cy="376.3" r="0.65"/><circle cx="500.8" cy="373.5" r="0.65"/><circle cx="507.8" cy="370.7" r="0.65"/><circle cx="479.7" cy="390.4" r="0.65"/><circle cx="471.3" cy="412.0" r="0.65"/><circle cx="475.5" cy="410.1" r="0.65"/><circle cx="474.1" cy="416.5" r="0.65"/><circle cx="471.3" cy="424.1" r="0.65"/><circle cx="476.9" cy="425.0" r="0.65"/><circle cx="476.9" cy="434.0" r="0.65"/><circle cx="550.1" cy="423.3" r="0.65"/><circle cx="562.2" cy="421.9" r="0.65"/><circle cx="519.7" cy="437.4" r="0.65"/><circle cx="521.9" cy="445.2" r="0.65"/><circle cx="530.4" cy="443.8" r="0.65"/><circle cx="501.4" cy="445.8" r="0.65"/><circle cx="488.1" cy="457.9" r="0.65"/><circle cx="536.6" cy="457.9" r="0.65"/></g>
<rect x="464.7" y="325.3" width="177.1" height="137.9" fill="none" stroke="#606060" stroke-width="1.1"/>
<path d="M479.2 463.2v6 M509.5 463.2v6 M539.8 463.2v6 M570.2 463.2v6 M600.5 463.2v6 M630.8 463.2v6 M464.7 330h-6.3 M464.7 368.7h-6.3 M464.7 407.2h-6.3 M464.7 445.8h-6.3" stroke="#606060" stroke-width="1.1" fill="none"/>
<text x="479.2" y="484" font-family="Liberation Sans" font-size="10.4" font-weight="bold" fill="#3c3c3c" text-anchor="middle"  filter="url(#soft)">−16</text>
<text x="509.5" y="484" font-family="Liberation Sans" font-size="10.4" font-weight="bold" fill="#3c3c3c" text-anchor="middle"  filter="url(#soft)">−14</text>
<text x="539.8" y="484" font-family="Liberation Sans" font-size="10.4" font-weight="bold" fill="#3c3c3c" text-anchor="middle"  filter="url(#soft)">−12</text>
<text x="570.2" y="484" font-family="Liberation Sans" font-size="10.4" font-weight="bold" fill="#3c3c3c" text-anchor="middle"  filter="url(#soft)">−10</text>
<text x="600.5" y="484" font-family="Liberation Sans" font-size="10.4" font-weight="bold" fill="#3c3c3c" text-anchor="middle"  filter="url(#soft)">−8</text>
<text x="630.8" y="484" font-family="Liberation Sans" font-size="10.4" font-weight="bold" fill="#3c3c3c" text-anchor="middle"  filter="url(#soft)">−6</text>
<text transform="translate(450,330) rotate(-90)" font-family="Liberation Sans" font-size="10.4" font-weight="bold" fill="#3c3c3c" text-anchor="middle"  filter="url(#soft)">0</text>
<text transform="translate(450,368.7) rotate(-90)" font-family="Liberation Sans" font-size="10.4" font-weight="bold" fill="#3c3c3c" text-anchor="middle"  filter="url(#soft)">−5</text>
<text transform="translate(450,407.2) rotate(-90)" font-family="Liberation Sans" font-size="10.4" font-weight="bold" fill="#3c3c3c" text-anchor="middle"  filter="url(#soft)">−10</text>
<text transform="translate(450,445.8) rotate(-90)" font-family="Liberation Sans" font-size="10.4" font-weight="bold" fill="#3c3c3c" text-anchor="middle"  filter="url(#soft)">−15</text>
<text x="511.1" y="305.6" font-family="Liberation Sans" font-size="11.1" font-weight="bold" fill="#2a2a2a" text-anchor="start" textLength="83.7" lengthAdjust="spacingAndGlyphs"  filter="url(#soft)">Propeller Twist</text>
<text x="599.6" y="339.8" font-family="Liberation Sans" font-size="10.5" font-weight="normal" fill="#dc4650" text-anchor="start" textLength="37.3" lengthAdjust="spacingAndGlyphs"  stroke="#dc4650" stroke-width="0.3" filter="url(#soft)">R=0.616</text>
<text transform="translate(413.1,425.3) rotate(-90)" font-family="Liberation Serif" font-size="18.3" font-weight="normal" fill="#222" text-anchor="start" textLength="80.1" lengthAdjust="spacingAndGlyphs"  stroke="#222" stroke-width="0.35" filter="url(#soft)">DNAshape</text>
<text x="535.1" y="502" font-family="Liberation Serif" font-size="18" font-weight="normal" fill="#222" text-anchor="start" textLength="67.9" lengthAdjust="spacingAndGlyphs"  stroke="#222" stroke-width="0.35" filter="url(#soft)">DynaSeq</text>
<rect x="186.1" y="606.5" width="87.7" height="32.3" fill="#4472B4"/>
<rect x="276.0" y="606.5" width="85.8" height="32.3" fill="#4F68AE"/>
<rect x="364.0" y="606.5" width="85.9" height="32.3" fill="#7ABB4C"/>
<rect x="452.1" y="606.5" width="82.2" height="32.3" fill="#4F68AE"/>
<rect x="186.1" y="640.8" width="87.7" height="30.4" fill="#7ABB4C"/>
<rect x="276.0" y="640.8" width="85.8" height="30.4" fill="#468DC8"/>
<rect x="364.0" y="640.8" width="85.9" height="30.4" fill="#76C4BE"/>
<rect x="452.1" y="640.8" width="82.2" height="30.4" fill="#BB84B9"/>
<rect x="186.1" y="673.2" width="87.7" height="31.0" fill="#78C083"/>
<rect x="276.0" y="673.2" width="85.8" height="31.0" fill="#4472B4"/>
<rect x="364.0" y="673.2" width="85.9" height="31.0" fill="#7ABB4C"/>
<rect x="452.1" y="673.2" width="82.2" height="31.0" fill="#76C2A0"/>
<rect x="186.1" y="706.2" width="87.7" height="30.6" fill="#7ABB4C"/>
<rect x="276.0" y="706.2" width="85.8" height="30.6" fill="#7AC8D0"/>
<rect x="364.0" y="706.2" width="85.9" height="30.6" fill="#78BC62"/>
<rect x="452.1" y="706.2" width="82.2" height="30.6" fill="#78C291"/>
<rect x="186.1" y="738.8" width="87.7" height="30.6" fill="#7ABB4C"/>
<rect x="276.0" y="738.8" width="85.8" height="30.6" fill="#4F68AE"/>
<rect x="364.0" y="738.8" width="85.9" height="30.6" fill="#8777B5"/>
<rect x="452.1" y="738.8" width="82.2" height="30.6" fill="#4569AF"/>
<rect x="186.1" y="771.4" width="87.7" height="30.4" fill="#74C4AE"/>
<rect x="276.0" y="771.4" width="85.8" height="30.4" fill="#74C4B8"/>
<rect x="364.0" y="771.4" width="85.9" height="30.4" fill="#6DC3D8"/>
<rect x="452.1" y="771.4" width="82.2" height="30.4" fill="#7ABB4C"/>
<rect x="186.1" y="803.8" width="87.7" height="30.8" fill="#7ABB4C"/>
<rect x="276.0" y="803.8" width="85.8" height="30.8" fill="#78C083"/>
<rect x="364.0" y="803.8" width="85.9" height="30.8" fill="#436BAE"/>
<rect x="452.1" y="803.8" width="82.2" height="30.8" fill="#7ABB4C"/>
<rect x="186.1" y="836.6" width="87.7" height="30.5" fill="#78C8D0"/>
<rect x="276.0" y="836.6" width="85.8" height="30.5" fill="#EEE353"/>
<rect x="364.0" y="836.6" width="85.9" height="30.5" fill="#468DC8"/>
<rect x="452.1" y="836.6" width="82.2" height="30.5" fill="#76BC6E"/>
<rect x="186.1" y="869.1" width="87.7" height="30.8" fill="#4F68AE"/>
<rect x="276.0" y="869.1" width="85.8" height="30.8" fill="#78BC6E"/>
<rect x="364.0" y="869.1" width="85.9" height="30.8" fill="#7ABB4C"/>
<rect x="452.1" y="869.1" width="82.2" height="30.8" fill="#76BC6E"/>
<rect x="186.1" y="901.9" width="87.7" height="30.4" fill="#957BB6"/>
<rect x="276.0" y="901.9" width="85.8" height="30.4" fill="#8DBF4B"/>
<rect x="364.0" y="901.9" width="85.9" height="30.4" fill="#7ABB4C"/>
<rect x="452.1" y="901.9" width="82.2" height="30.4" fill="#8DBF4B"/>
<rect x="186.1" y="934.3" width="87.7" height="30.4" fill="#6DC3D8"/>
<rect x="276.0" y="934.3" width="85.8" height="30.4" fill="#6DC3D8"/>
<rect x="364.0" y="934.3" width="85.9" height="30.4" fill="#E4493D"/>
<rect x="452.1" y="934.3" width="82.2" height="30.4" fill="#7ABB4C"/>
<rect x="186.1" y="966.7" width="87.7" height="26.8" fill="#74C4B8"/>
<rect x="276.0" y="966.7" width="85.8" height="26.8" fill="#74C4B0"/>
<rect x="364.0" y="966.7" width="85.9" height="26.8" fill="#E4493D"/>
<rect x="452.1" y="966.7" width="82.2" height="26.8" fill="#7ABB4C"/>
<text x="545.8" y="626.3" font-family="Liberation Serif" font-size="26.6" font-weight="normal" fill="#222" text-anchor="start" textLength="56.6" lengthAdjust="spacingAndGlyphs"  stroke="#222" stroke-width="0.35" filter="url(#soft)">Slide</text>
<text x="545.8" y="659.0" font-family="Liberation Serif" font-size="26.6" font-weight="normal" fill="#222" text-anchor="start" textLength="45.2" lengthAdjust="spacingAndGlyphs"  stroke="#222" stroke-width="0.35" filter="url(#soft)">Roll</text>
<text x="545.8" y="691.7" font-family="Liberation Serif" font-size="26.6" font-weight="normal" fill="#222" text-anchor="start" textLength="40.5" lengthAdjust="spacingAndGlyphs"  stroke="#222" stroke-width="0.35" filter="url(#soft)">Tilt</text>
<text x="545.8" y="724.3" font-family="Liberation Serif" font-size="26.6" font-weight="normal" fill="#222" text-anchor="start" textLength="78.2" lengthAdjust="spacingAndGlyphs"  stroke="#222" stroke-width="0.35" filter="url(#soft)">Buckle</text>
<text x="545.8" y="757.0" font-family="Liberation Serif" font-size="26.6" font-weight="normal" fill="#222" text-anchor="start" textLength="96.9" lengthAdjust="spacingAndGlyphs"  stroke="#222" stroke-width="0.35" filter="url(#soft)">Prop_tw</text>
<text x="545.8" y="789.7" font-family="Liberation Serif" font-size="26.6" font-weight="normal" fill="#222" text-anchor="start" textLength="54" lengthAdjust="spacingAndGlyphs"  stroke="#222" stroke-width="0.35" filter="url(#soft)">Shift</text>
<text x="545.8" y="822.4" font-family="Liberation Serif" font-size="26.6" font-weight="normal" fill="#222" text-anchor="start" textLength="87.7" lengthAdjust="spacingAndGlyphs"  stroke="#222" stroke-width="0.35" filter="url(#soft)">Stagger</text>
<text x="545.8" y="855.1" font-family="Liberation Serif" font-size="26.6" font-weight="normal" fill="#222" text-anchor="start" textLength="49.4" lengthAdjust="spacingAndGlyphs"  stroke="#222" stroke-width="0.35" filter="url(#soft)">Rise</text>
<text x="545.8" y="887.7" font-family="Liberation Serif" font-size="26.6" font-weight="normal" fill="#222" text-anchor="start" textLength="66" lengthAdjust="spacingAndGlyphs"  stroke="#222" stroke-width="0.35" filter="url(#soft)">Shear</text>
<text x="545.8" y="920.4" font-family="Liberation Serif" font-size="26.6" font-weight="normal" fill="#222" text-anchor="start" textLength="65" lengthAdjust="spacingAndGlyphs"  stroke="#222" stroke-width="0.35" filter="url(#soft)">Twist</text>
<text x="545.8" y="953.1" font-family="Liberation Serif" font-size="26.6" font-weight="normal" fill="#222" text-anchor="start" textLength="83" lengthAdjust="spacingAndGlyphs"  stroke="#222" stroke-width="0.35" filter="url(#soft)">Stretch</text>
<text x="545.8" y="985.8" font-family="Liberation Serif" font-size="26.6" font-weight="normal" fill="#222" text-anchor="start" textLength="98" lengthAdjust="spacingAndGlyphs"  stroke="#222" stroke-width="0.35" filter="url(#soft)">Opening</text>
<text x="192.1" y="1026.3" font-family="Liberation Serif" font-size="26.6" font-weight="normal" fill="#222" text-anchor="start" textLength="54.5" lengthAdjust="spacingAndGlyphs"  stroke="#222" stroke-width="0.35" filter="url(#soft)">HelT</text>
<text x="280" y="1026.3" font-family="Liberation Serif" font-size="26.6" font-weight="normal" fill="#222" text-anchor="start" textLength="62.2" lengthAdjust="spacingAndGlyphs"  stroke="#222" stroke-width="0.35" filter="url(#soft)">MGW</text>
<text x="364" y="1026.3" font-family="Liberation Serif" font-size="26.6" font-weight="normal" fill="#222" text-anchor="start" textLength="81.9" lengthAdjust="spacingAndGlyphs"  stroke="#222" stroke-width="0.35" filter="url(#soft)">Prop_T</text>
<text x="467.5" y="1026.3" font-family="Liberation Serif" font-size="26.6" font-weight="normal" fill="#222" text-anchor="start" textLength="44" lengthAdjust="spacingAndGlyphs"  stroke="#222" stroke-width="0.35" filter="url(#soft)">Roll</text>
<text x="270.7" y="1073.7" font-family="Liberation Serif" font-size="20" font-weight="bold" fill="#222" text-anchor="start" textLength="206" lengthAdjust="spacingAndGlyphs"  filter="url(#soft)">DNAshape predictions</text>
<text transform="translate(658.6,693.8) rotate(90)" font-family="Liberation Serif" font-size="19" font-weight="bold" fill="#222" text-anchor="start" textLength="191.5" lengthAdjust="spacingAndGlyphs"  filter="url(#soft)">DynaSeq predictions</text>
<path d="M183 623.1H150.6V655.8H183 M183 688.4H170.2V721.0H183 M150.6 639.4H144.8V704.7H170.2 M144.8 672.1H131.5V753.7H183 M183 786.4H167.4V819.0H183 M167.4 802.7H152.7V851.6H183 M183 884.3H159.7V917.0H183 M183 949.6H176.6V982.2H183 M159.7 900.6H134.4V965.9H176.6 M152.7 827.2H124V933.3H134.4 M131.5 712.9H102.5V880.2H124" stroke="#555" stroke-width="1.1" fill="none"/>
<rect x="152" y="540.1" width="62.4" height="17" fill="url(#lg)"/>
<path d="M152 557.3H214.4" stroke="#5a4040" stroke-width="1.6"/>
<path d="M163.1 557v11.6M182.5 557v11.6M203.7 557v11.6" stroke="#444" stroke-width="1.7"/>
<text x="146.3" y="594.4" font-family="Liberation Sans" font-size="16.3" font-weight="normal" fill="#484848" text-anchor="start" textLength="32.3" lengthAdjust="spacingAndGlyphs"  stroke="#484848" stroke-width="0.45" filter="url(#soft2)">−0.5</text>
<text x="193.2" y="594.4" font-family="Liberation Sans" font-size="16.3" font-weight="normal" fill="#484848" text-anchor="start" textLength="21.5" lengthAdjust="spacingAndGlyphs"  stroke="#484848" stroke-width="0.45" filter="url(#soft2)">0.5</text>
</svg>
</body></html>
